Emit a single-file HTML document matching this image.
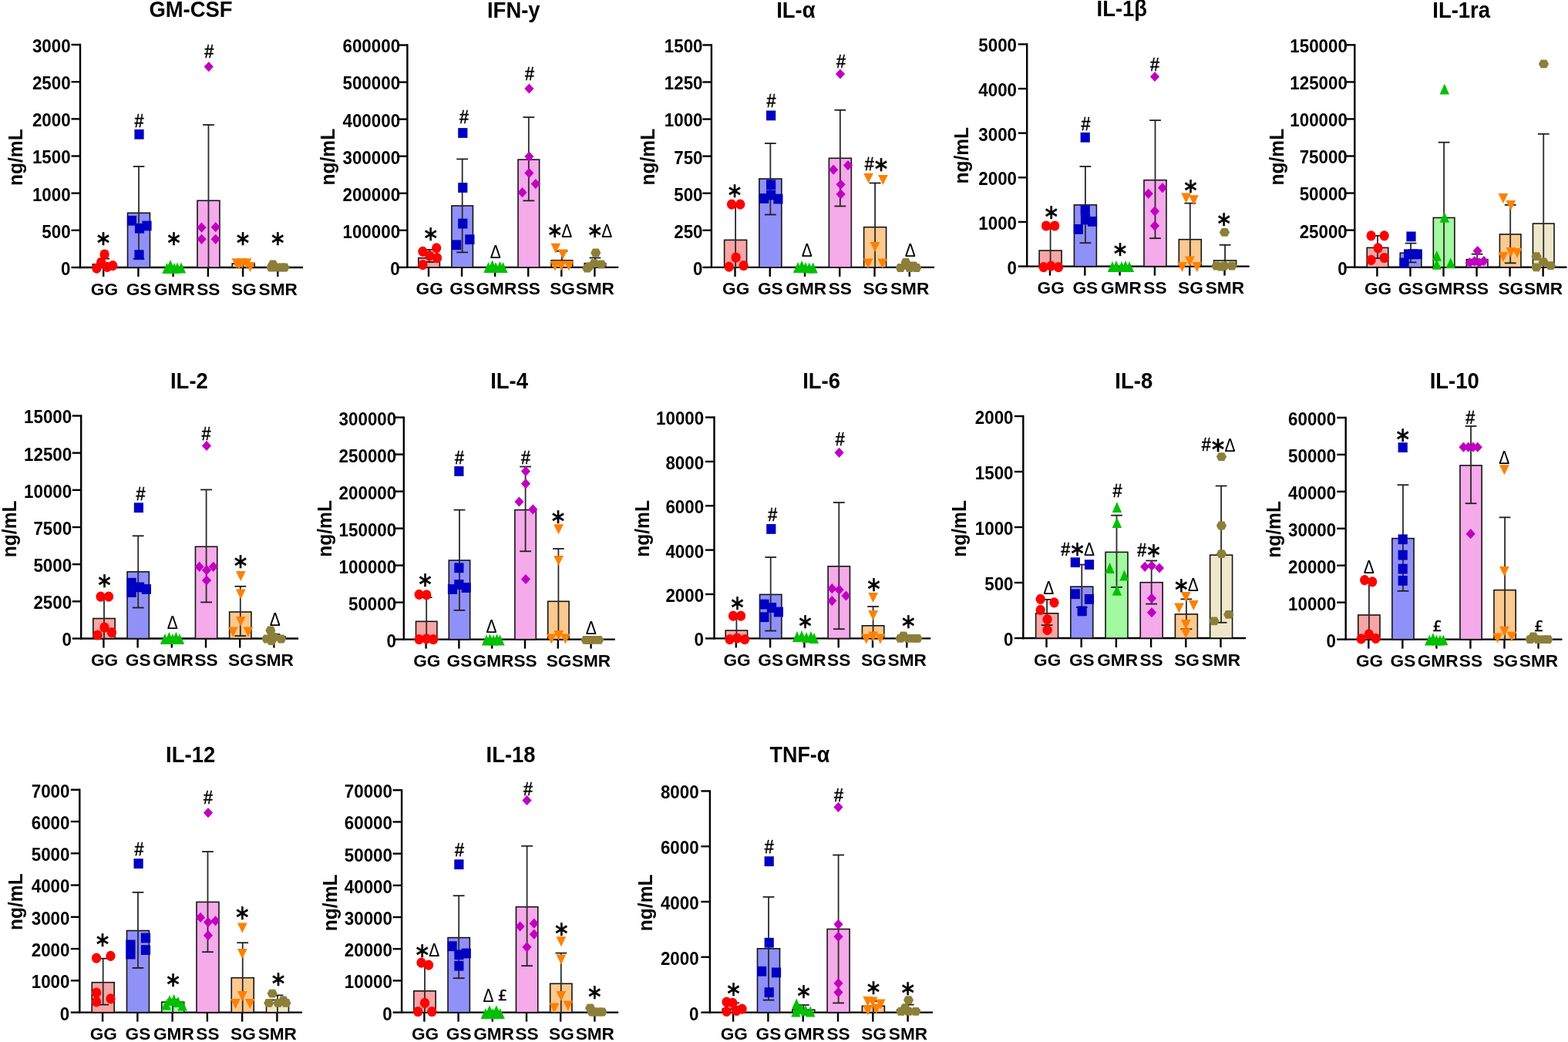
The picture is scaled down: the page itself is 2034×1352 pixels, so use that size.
<!DOCTYPE html>
<html><head><meta charset="utf-8"><title>Cytokines</title>
<style>html,body{margin:0;padding:0;background:#fff;} svg{display:block;} text{font-kerning:none;}</style></head>
<body><svg width="2034" height="1352" viewBox="0 0 2034 1352">
<rect width="2034" height="1352" fill="#fff"/>
<text transform="translate(193.42,22.4) scale(0.96,1)" font-family="'Liberation Sans', sans-serif" font-weight="bold" font-size="28.6" fill="#000">GM-CSF</text>
<text transform="translate(29.3,203.5) rotate(-90) translate(-37.48,0) scale(0.96,1)" font-family="'Liberation Sans', sans-serif" font-weight="bold" font-size="25.6">ng/mL</text>
<line x1="92.5" y1="347" x2="104" y2="347" stroke="#000" stroke-width="2.4"/>
<text transform="translate(79.05,356.9) scale(0.92,1)" font-family="'Liberation Sans', sans-serif" font-weight="bold" font-size="24.3" fill="#000">0</text>
<line x1="92.5" y1="298.83" x2="104" y2="298.83" stroke="#000" stroke-width="2.4"/>
<text transform="translate(54.31,308.73) scale(0.92,1)" font-family="'Liberation Sans', sans-serif" font-weight="bold" font-size="24.3" fill="#000">500</text>
<line x1="92.5" y1="250.67" x2="104" y2="250.67" stroke="#000" stroke-width="2.4"/>
<text transform="translate(41.95,260.57) scale(0.92,1)" font-family="'Liberation Sans', sans-serif" font-weight="bold" font-size="24.3" fill="#000">1000</text>
<line x1="92.5" y1="202.5" x2="104" y2="202.5" stroke="#000" stroke-width="2.4"/>
<text transform="translate(41.95,212.4) scale(0.92,1)" font-family="'Liberation Sans', sans-serif" font-weight="bold" font-size="24.3" fill="#000">1500</text>
<line x1="92.5" y1="154.33" x2="104" y2="154.33" stroke="#000" stroke-width="2.4"/>
<text transform="translate(41.95,164.23) scale(0.92,1)" font-family="'Liberation Sans', sans-serif" font-weight="bold" font-size="24.3" fill="#000">2000</text>
<line x1="92.5" y1="106.17" x2="104" y2="106.17" stroke="#000" stroke-width="2.4"/>
<text transform="translate(41.95,116.07) scale(0.92,1)" font-family="'Liberation Sans', sans-serif" font-weight="bold" font-size="24.3" fill="#000">2500</text>
<line x1="92.5" y1="58" x2="104" y2="58" stroke="#000" stroke-width="2.4"/>
<text transform="translate(41.95,67.9) scale(0.92,1)" font-family="'Liberation Sans', sans-serif" font-weight="bold" font-size="24.3" fill="#000">3000</text>
<line x1="104" y1="56.8" x2="104" y2="348.2" stroke="#000" stroke-width="2.4"/>
<line x1="102.8" y1="347" x2="393" y2="347" stroke="#000" stroke-width="2.4"/>
<line x1="134.2" y1="347" x2="134.2" y2="359" stroke="#000" stroke-width="2.4"/>
<text transform="translate(117.82,382.5) scale(1.02,1)" font-family="'Liberation Sans', sans-serif" font-weight="bold" font-size="22.2" fill="#000">GG</text>
<line x1="179.42" y1="347" x2="179.42" y2="359" stroke="#000" stroke-width="2.4"/>
<text transform="translate(163.64,382.5) scale(1.02,1)" font-family="'Liberation Sans', sans-serif" font-weight="bold" font-size="22.2" fill="#000">GS</text>
<line x1="224.64" y1="347" x2="224.64" y2="359" stroke="#000" stroke-width="2.4"/>
<text transform="translate(199.99,382.5) scale(1.02,1)" font-family="'Liberation Sans', sans-serif" font-weight="bold" font-size="22.2" fill="#000">GMR</text>
<line x1="269.86" y1="347" x2="269.86" y2="359" stroke="#000" stroke-width="2.4"/>
<text transform="translate(255.27,382.5) scale(1.02,1)" font-family="'Liberation Sans', sans-serif" font-weight="bold" font-size="22.2" fill="#000">SS</text>
<line x1="315.08" y1="347" x2="315.08" y2="359" stroke="#000" stroke-width="2.4"/>
<text transform="translate(300,382.5) scale(1.02,1)" font-family="'Liberation Sans', sans-serif" font-weight="bold" font-size="22.2" fill="#000">SG</text>
<line x1="360.3" y1="347" x2="360.3" y2="359" stroke="#000" stroke-width="2.4"/>
<text transform="translate(335.55,382.5) scale(1.02,1)" font-family="'Liberation Sans', sans-serif" font-weight="bold" font-size="22.2" fill="#000">SMR</text>
<rect x="120.33" y="342.8" width="28.94" height="4.2" fill="#F9A5A5" stroke="#141414" stroke-width="1.6"/>
<rect x="165.55" y="276.3" width="28.94" height="70.7" fill="#9090F9" stroke="#141414" stroke-width="1.6"/>
<rect x="255.99" y="260.3" width="28.94" height="86.7" fill="#F5AAEA" stroke="#141414" stroke-width="1.6"/>
<rect x="301.21" y="342" width="28.94" height="5" fill="#FCC98F" stroke="#141414" stroke-width="1.6"/>
<line x1="134.8" y1="335.7" x2="134.8" y2="347" stroke="#2a2a2a" stroke-width="1.8"/>
<line x1="127.4" y1="335.7" x2="142.2" y2="335.7" stroke="#1e1e1e" stroke-width="1.8"/>
<line x1="180.02" y1="216" x2="180.02" y2="335.8" stroke="#2a2a2a" stroke-width="1.8"/>
<line x1="172.62" y1="216" x2="187.42" y2="216" stroke="#1e1e1e" stroke-width="1.8"/>
<line x1="172.62" y1="335.8" x2="187.42" y2="335.8" stroke="#1e1e1e" stroke-width="1.8"/>
<line x1="270.46" y1="162" x2="270.46" y2="347" stroke="#2a2a2a" stroke-width="1.8"/>
<line x1="263.06" y1="162" x2="277.86" y2="162" stroke="#1e1e1e" stroke-width="1.8"/>
<line x1="315.68" y1="338" x2="315.68" y2="347" stroke="#2a2a2a" stroke-width="1.8"/>
<line x1="308.28" y1="338" x2="323.08" y2="338" stroke="#1e1e1e" stroke-width="1.8"/>
<ellipse cx="135.6" cy="330" rx="6.15" ry="6.6" fill="#FF0000"/>
<ellipse cx="131.2" cy="340.5" rx="6.15" ry="6.6" fill="#FF0000"/>
<ellipse cx="125.4" cy="348.2" rx="6.15" ry="6.6" fill="#FF0000"/>
<ellipse cx="139.1" cy="346.4" rx="6.15" ry="6.6" fill="#FF0000"/>
<ellipse cx="146.3" cy="344.6" rx="6.15" ry="6.6" fill="#FF0000"/>
<rect x="174.4" y="167.9" width="12.2" height="12.8" fill="#0000C0"/>
<rect x="164.9" y="279.9" width="12.2" height="12.8" fill="#0000C0"/>
<rect x="174.9" y="289.9" width="12.2" height="12.8" fill="#0000C0"/>
<rect x="184.4" y="286.6" width="12.2" height="12.8" fill="#0000C0"/>
<rect x="174.4" y="324.3" width="12.2" height="12.8" fill="#0000C0"/>
<polygon points="210.3,354.9 222.7,354.9 216.5,341.1" fill="#00C000"/>
<polygon points="214.8,350.9 227.2,350.9 221,337.1" fill="#00C000"/>
<polygon points="219.8,354.9 232.2,354.9 226,341.1" fill="#00C000"/>
<polygon points="223.8,354.4 236.2,354.4 230,340.6" fill="#00C000"/>
<polygon points="228.8,354.4 241.2,354.4 235,340.6" fill="#00C000"/>
<polygon points="264.7,86.6 270.8,80 276.9,86.6 270.8,93.2" fill="#C000C0"/>
<polygon points="255.4,295.2 261.5,288.6 267.6,295.2 261.5,301.8" fill="#C000C0"/>
<polygon points="273.6,294.7 279.7,288.1 285.8,294.7 279.7,301.3" fill="#C000C0"/>
<polygon points="255.4,310.3 261.5,303.7 267.6,310.3 261.5,316.9" fill="#C000C0"/>
<polygon points="273.6,310.3 279.7,303.7 285.8,310.3 279.7,316.9" fill="#C000C0"/>
<polygon points="300.6,335.2 313.4,335.2 307,348.2" fill="#FF8000"/>
<polygon points="307.6,335.2 320.4,335.2 314,348.2" fill="#FF8000"/>
<polygon points="313.6,335.2 326.4,335.2 320,348.2" fill="#FF8000"/>
<polygon points="318.1,340 330.9,340 324.5,353" fill="#FF8000"/>
<polygon points="303.6,336.5 316.4,336.5 310,349.5" fill="#FF8000"/>
<polygon points="347.4,343 350.3,337.6 357.7,337.6 360.6,343 357.7,348.4 350.3,348.4" fill="#8C7F3A"/>
<polygon points="345.4,347 348.3,341.6 355.7,341.6 358.6,347 355.7,352.4 348.3,352.4" fill="#8C7F3A"/>
<polygon points="353.4,347 356.3,341.6 363.7,341.6 366.6,347 363.7,352.4 356.3,352.4" fill="#8C7F3A"/>
<polygon points="359.4,347 362.3,341.6 369.7,341.6 372.6,347 369.7,352.4 362.3,352.4" fill="#8C7F3A"/>
<polygon points="362.4,347 365.3,341.6 372.7,341.6 375.6,347 372.7,352.4 365.3,352.4" fill="#8C7F3A"/>
<text transform="translate(123.41,318.3) scale(0.96,1)" font-family="'DejaVu Sans', sans-serif" font-weight="normal" font-size="26.16" fill="#000" stroke="#000" stroke-width="0.63">∗</text>
<text transform="translate(174.51,164.85) scale(0.88,1)" font-family="'Liberation Sans', sans-serif" font-weight="normal" font-size="24.41" fill="#000" stroke="#000" stroke-width="0.57">#</text>
<text transform="translate(214.91,318.3) scale(0.96,1)" font-family="'DejaVu Sans', sans-serif" font-weight="normal" font-size="26.16" fill="#000" stroke="#000" stroke-width="0.63">∗</text>
<text transform="translate(265.31,74.55) scale(0.88,1)" font-family="'Liberation Sans', sans-serif" font-weight="normal" font-size="24.41" fill="#000" stroke="#000" stroke-width="0.57">#</text>
<text transform="translate(304.51,318.3) scale(0.96,1)" font-family="'DejaVu Sans', sans-serif" font-weight="normal" font-size="26.16" fill="#000" stroke="#000" stroke-width="0.63">∗</text>
<text transform="translate(349.81,318.3) scale(0.96,1)" font-family="'DejaVu Sans', sans-serif" font-weight="normal" font-size="26.16" fill="#000" stroke="#000" stroke-width="0.63">∗</text>
<text transform="translate(632,22.6) scale(0.96,1)" font-family="'Liberation Sans', sans-serif" font-weight="bold" font-size="28.6" fill="#000">IFN-y</text>
<text transform="translate(433.8,203) rotate(-90) translate(-37.48,0) scale(0.96,1)" font-family="'Liberation Sans', sans-serif" font-weight="bold" font-size="25.6">ng/mL</text>
<line x1="516.9" y1="346.9" x2="528.4" y2="346.9" stroke="#000" stroke-width="2.4"/>
<text transform="translate(506.35,356.8) scale(0.92,1)" font-family="'Liberation Sans', sans-serif" font-weight="bold" font-size="24.3" fill="#000">0</text>
<line x1="516.9" y1="298.83" x2="528.4" y2="298.83" stroke="#000" stroke-width="2.4"/>
<text transform="translate(444.52,308.73) scale(0.92,1)" font-family="'Liberation Sans', sans-serif" font-weight="bold" font-size="24.3" fill="#000">100000</text>
<line x1="516.9" y1="250.77" x2="528.4" y2="250.77" stroke="#000" stroke-width="2.4"/>
<text transform="translate(444.52,260.67) scale(0.92,1)" font-family="'Liberation Sans', sans-serif" font-weight="bold" font-size="24.3" fill="#000">200000</text>
<line x1="516.9" y1="202.7" x2="528.4" y2="202.7" stroke="#000" stroke-width="2.4"/>
<text transform="translate(444.52,212.6) scale(0.92,1)" font-family="'Liberation Sans', sans-serif" font-weight="bold" font-size="24.3" fill="#000">300000</text>
<line x1="516.9" y1="154.63" x2="528.4" y2="154.63" stroke="#000" stroke-width="2.4"/>
<text transform="translate(444.52,164.53) scale(0.92,1)" font-family="'Liberation Sans', sans-serif" font-weight="bold" font-size="24.3" fill="#000">400000</text>
<line x1="516.9" y1="106.57" x2="528.4" y2="106.57" stroke="#000" stroke-width="2.4"/>
<text transform="translate(444.52,116.47) scale(0.92,1)" font-family="'Liberation Sans', sans-serif" font-weight="bold" font-size="24.3" fill="#000">500000</text>
<line x1="516.9" y1="58.5" x2="528.4" y2="58.5" stroke="#000" stroke-width="2.4"/>
<text transform="translate(444.52,68.4) scale(0.92,1)" font-family="'Liberation Sans', sans-serif" font-weight="bold" font-size="24.3" fill="#000">600000</text>
<line x1="528.4" y1="57.3" x2="528.4" y2="348.1" stroke="#000" stroke-width="2.4"/>
<line x1="527.2" y1="346.9" x2="802.2" y2="346.9" stroke="#000" stroke-width="2.4"/>
<line x1="556" y1="346.9" x2="556" y2="358.9" stroke="#000" stroke-width="2.4"/>
<text transform="translate(539.62,382.4) scale(1.02,1)" font-family="'Liberation Sans', sans-serif" font-weight="bold" font-size="22.2" fill="#000">GG</text>
<line x1="599.08" y1="346.9" x2="599.08" y2="358.9" stroke="#000" stroke-width="2.4"/>
<text transform="translate(583.3,382.4) scale(1.02,1)" font-family="'Liberation Sans', sans-serif" font-weight="bold" font-size="22.2" fill="#000">GS</text>
<line x1="642.16" y1="346.9" x2="642.16" y2="358.9" stroke="#000" stroke-width="2.4"/>
<text transform="translate(617.51,382.4) scale(1.02,1)" font-family="'Liberation Sans', sans-serif" font-weight="bold" font-size="22.2" fill="#000">GMR</text>
<line x1="685.24" y1="346.9" x2="685.24" y2="358.9" stroke="#000" stroke-width="2.4"/>
<text transform="translate(670.65,382.4) scale(1.02,1)" font-family="'Liberation Sans', sans-serif" font-weight="bold" font-size="22.2" fill="#000">SS</text>
<line x1="728.32" y1="346.9" x2="728.32" y2="358.9" stroke="#000" stroke-width="2.4"/>
<text transform="translate(713.24,382.4) scale(1.02,1)" font-family="'Liberation Sans', sans-serif" font-weight="bold" font-size="22.2" fill="#000">SG</text>
<line x1="771.4" y1="346.9" x2="771.4" y2="358.9" stroke="#000" stroke-width="2.4"/>
<text transform="translate(746.65,382.4) scale(1.02,1)" font-family="'Liberation Sans', sans-serif" font-weight="bold" font-size="22.2" fill="#000">SMR</text>
<rect x="542.81" y="334.7" width="27.57" height="12.2" fill="#F9A5A5" stroke="#141414" stroke-width="1.6"/>
<rect x="585.89" y="267" width="27.57" height="79.9" fill="#9090F9" stroke="#141414" stroke-width="1.6"/>
<rect x="672.05" y="207.1" width="27.57" height="139.8" fill="#F5AAEA" stroke="#141414" stroke-width="1.6"/>
<rect x="715.13" y="337.8" width="27.57" height="9.1" fill="#FCC98F" stroke="#141414" stroke-width="1.6"/>
<rect x="758.21" y="341.7" width="27.57" height="5.2" fill="#EEE7CA" stroke="#141414" stroke-width="1.6"/>
<line x1="556.6" y1="324" x2="556.6" y2="340" stroke="#2a2a2a" stroke-width="1.8"/>
<line x1="549.2" y1="324" x2="564" y2="324" stroke="#1e1e1e" stroke-width="1.8"/>
<line x1="549.2" y1="340" x2="564" y2="340" stroke="#1e1e1e" stroke-width="1.8"/>
<line x1="599.68" y1="206.4" x2="599.68" y2="327.4" stroke="#2a2a2a" stroke-width="1.8"/>
<line x1="592.28" y1="206.4" x2="607.08" y2="206.4" stroke="#1e1e1e" stroke-width="1.8"/>
<line x1="592.28" y1="327.4" x2="607.08" y2="327.4" stroke="#1e1e1e" stroke-width="1.8"/>
<line x1="685.84" y1="152.1" x2="685.84" y2="260.4" stroke="#2a2a2a" stroke-width="1.8"/>
<line x1="678.44" y1="152.1" x2="693.24" y2="152.1" stroke="#1e1e1e" stroke-width="1.8"/>
<line x1="678.44" y1="260.4" x2="693.24" y2="260.4" stroke="#1e1e1e" stroke-width="1.8"/>
<line x1="728.92" y1="325.8" x2="728.92" y2="346.9" stroke="#2a2a2a" stroke-width="1.8"/>
<line x1="721.52" y1="325.8" x2="736.32" y2="325.8" stroke="#1e1e1e" stroke-width="1.8"/>
<line x1="772" y1="334.5" x2="772" y2="346.9" stroke="#2a2a2a" stroke-width="1.8"/>
<line x1="764.6" y1="334.5" x2="779.4" y2="334.5" stroke="#1e1e1e" stroke-width="1.8"/>
<ellipse cx="548.4" cy="326.3" rx="6.15" ry="6.6" fill="#FF0000"/>
<ellipse cx="566.2" cy="321.8" rx="6.15" ry="6.6" fill="#FF0000"/>
<ellipse cx="557.3" cy="331.8" rx="6.15" ry="6.6" fill="#FF0000"/>
<ellipse cx="567" cy="334.7" rx="6.15" ry="6.6" fill="#FF0000"/>
<ellipse cx="548.4" cy="343.6" rx="6.15" ry="6.6" fill="#FF0000"/>
<rect x="594.2" y="166.1" width="12.2" height="12.8" fill="#0000C0"/>
<rect x="594.2" y="237.1" width="12.2" height="12.8" fill="#0000C0"/>
<rect x="594.2" y="283.7" width="12.2" height="12.8" fill="#0000C0"/>
<rect x="586" y="311.4" width="12.2" height="12.8" fill="#0000C0"/>
<rect x="603.3" y="304.3" width="12.2" height="12.8" fill="#0000C0"/>
<polygon points="627.3,353.9 639.7,353.9 633.5,340.1" fill="#00C000"/>
<polygon points="632.4,351.3 644.8,351.3 638.6,337.5" fill="#00C000"/>
<polygon points="636.8,353.9 649.2,353.9 643,340.1" fill="#00C000"/>
<polygon points="642.2,352.9 654.6,352.9 648.4,339.1" fill="#00C000"/>
<polygon points="646.3,353.9 658.7,353.9 652.5,340.1" fill="#00C000"/>
<polygon points="680.3,115 686.4,108.4 692.5,115 686.4,121.6" fill="#C000C0"/>
<polygon points="680.3,203.1 686.4,196.5 692.5,203.1 686.4,209.7" fill="#C000C0"/>
<polygon points="680.3,224.6 686.4,218 692.5,224.6 686.4,231.2" fill="#C000C0"/>
<polygon points="688.7,238.6 694.8,232 700.9,238.6 694.8,245.2" fill="#C000C0"/>
<polygon points="671.4,249.7 677.5,243.1 683.6,249.7 677.5,256.3" fill="#C000C0"/>
<polygon points="714.4,315.7 727.2,315.7 720.8,328.7" fill="#FF8000"/>
<polygon points="723.8,323.5 736.6,323.5 730.2,336.5" fill="#FF8000"/>
<polygon points="731.6,338.5 744.4,338.5 738,351.5" fill="#FF8000"/>
<polygon points="713.6,338.5 726.4,338.5 720,351.5" fill="#FF8000"/>
<polygon points="721.6,338.5 734.4,338.5 728,351.5" fill="#FF8000"/>
<polygon points="766.2,328 769.1,322.6 776.5,322.6 779.4,328 776.5,333.4 769.1,333.4" fill="#8C7F3A"/>
<polygon points="757.7,345.6 760.6,340.2 768,340.2 770.9,345.6 768,351 760.6,351" fill="#8C7F3A"/>
<polygon points="764.2,341.7 767.1,336.3 774.5,336.3 777.4,341.7 774.5,347.1 767.1,347.1" fill="#8C7F3A"/>
<polygon points="773.4,343 776.3,337.6 783.7,337.6 786.6,343 783.7,348.4 776.3,348.4" fill="#8C7F3A"/>
<polygon points="755.1,348.2 758,342.8 765.4,342.8 768.3,348.2 765.4,353.6 758,353.6" fill="#8C7F3A"/>
<text transform="translate(548.31,312.3) scale(0.96,1)" font-family="'DejaVu Sans', sans-serif" font-weight="normal" font-size="26.16" fill="#000" stroke="#000" stroke-width="0.63">∗</text>
<text transform="translate(596.11,159.95) scale(0.88,1)" font-family="'Liberation Sans', sans-serif" font-weight="normal" font-size="24.41" fill="#000" stroke="#000" stroke-width="0.57">#</text>
<text transform="translate(635.67,334.5) scale(0.91,1)" font-family="'Liberation Sans', sans-serif" font-weight="normal" font-size="23.11" fill="#000">Δ</text>
<text transform="translate(680.91,104.45) scale(0.88,1)" font-family="'Liberation Sans', sans-serif" font-weight="normal" font-size="24.41" fill="#000" stroke="#000" stroke-width="0.57">#</text>
<text transform="translate(709.26,308.3) scale(0.96,1)" font-family="'DejaVu Sans', sans-serif" font-weight="normal" font-size="26.16" fill="#000" stroke="#000" stroke-width="0.63">∗</text>
<text transform="translate(728.22,307.8) scale(0.91,1)" font-family="'Liberation Sans', sans-serif" font-weight="normal" font-size="23.11" fill="#000">Δ</text>
<text transform="translate(761.36,308.3) scale(0.96,1)" font-family="'DejaVu Sans', sans-serif" font-weight="normal" font-size="26.16" fill="#000" stroke="#000" stroke-width="0.63">∗</text>
<text transform="translate(780.32,307.8) scale(0.91,1)" font-family="'Liberation Sans', sans-serif" font-weight="normal" font-size="23.11" fill="#000">Δ</text>
<text transform="translate(1007.13,22.5) scale(0.96,1)" font-family="'Liberation Sans', sans-serif" font-weight="bold" font-size="28.6" fill="#000">IL-α</text>
<text transform="translate(848.7,203) rotate(-90) translate(-37.48,0) scale(0.96,1)" font-family="'Liberation Sans', sans-serif" font-weight="bold" font-size="25.6">ng/mL</text>
<line x1="911.4" y1="346.9" x2="922.9" y2="346.9" stroke="#000" stroke-width="2.4"/>
<text transform="translate(898.95,356.8) scale(0.92,1)" font-family="'Liberation Sans', sans-serif" font-weight="bold" font-size="24.3" fill="#000">0</text>
<line x1="911.4" y1="298.82" x2="922.9" y2="298.82" stroke="#000" stroke-width="2.4"/>
<text transform="translate(874.21,308.72) scale(0.92,1)" font-family="'Liberation Sans', sans-serif" font-weight="bold" font-size="24.3" fill="#000">250</text>
<line x1="911.4" y1="250.73" x2="922.9" y2="250.73" stroke="#000" stroke-width="2.4"/>
<text transform="translate(874.21,260.63) scale(0.92,1)" font-family="'Liberation Sans', sans-serif" font-weight="bold" font-size="24.3" fill="#000">500</text>
<line x1="911.4" y1="202.65" x2="922.9" y2="202.65" stroke="#000" stroke-width="2.4"/>
<text transform="translate(874.21,212.55) scale(0.92,1)" font-family="'Liberation Sans', sans-serif" font-weight="bold" font-size="24.3" fill="#000">750</text>
<line x1="911.4" y1="154.57" x2="922.9" y2="154.57" stroke="#000" stroke-width="2.4"/>
<text transform="translate(861.85,164.47) scale(0.92,1)" font-family="'Liberation Sans', sans-serif" font-weight="bold" font-size="24.3" fill="#000">1000</text>
<line x1="911.4" y1="106.48" x2="922.9" y2="106.48" stroke="#000" stroke-width="2.4"/>
<text transform="translate(861.85,116.38) scale(0.92,1)" font-family="'Liberation Sans', sans-serif" font-weight="bold" font-size="24.3" fill="#000">1250</text>
<line x1="911.4" y1="58.4" x2="922.9" y2="58.4" stroke="#000" stroke-width="2.4"/>
<text transform="translate(861.85,68.3) scale(0.92,1)" font-family="'Liberation Sans', sans-serif" font-weight="bold" font-size="24.3" fill="#000">1500</text>
<line x1="922.9" y1="57.2" x2="922.9" y2="348.1" stroke="#000" stroke-width="2.4"/>
<line x1="921.7" y1="346.9" x2="1212" y2="346.9" stroke="#000" stroke-width="2.4"/>
<line x1="953.5" y1="346.9" x2="953.5" y2="358.9" stroke="#000" stroke-width="2.4"/>
<text transform="translate(937.12,382.4) scale(1.02,1)" font-family="'Liberation Sans', sans-serif" font-weight="bold" font-size="22.2" fill="#000">GG</text>
<line x1="998.75" y1="346.9" x2="998.75" y2="358.9" stroke="#000" stroke-width="2.4"/>
<text transform="translate(982.97,382.4) scale(1.02,1)" font-family="'Liberation Sans', sans-serif" font-weight="bold" font-size="22.2" fill="#000">GS</text>
<line x1="1044" y1="346.9" x2="1044" y2="358.9" stroke="#000" stroke-width="2.4"/>
<text transform="translate(1019.35,382.4) scale(1.02,1)" font-family="'Liberation Sans', sans-serif" font-weight="bold" font-size="22.2" fill="#000">GMR</text>
<line x1="1089.25" y1="346.9" x2="1089.25" y2="358.9" stroke="#000" stroke-width="2.4"/>
<text transform="translate(1074.66,382.4) scale(1.02,1)" font-family="'Liberation Sans', sans-serif" font-weight="bold" font-size="22.2" fill="#000">SS</text>
<line x1="1134.5" y1="346.9" x2="1134.5" y2="358.9" stroke="#000" stroke-width="2.4"/>
<text transform="translate(1119.42,382.4) scale(1.02,1)" font-family="'Liberation Sans', sans-serif" font-weight="bold" font-size="22.2" fill="#000">SG</text>
<line x1="1179.75" y1="346.9" x2="1179.75" y2="358.9" stroke="#000" stroke-width="2.4"/>
<text transform="translate(1155,382.4) scale(1.02,1)" font-family="'Liberation Sans', sans-serif" font-weight="bold" font-size="22.2" fill="#000">SMR</text>
<rect x="939.62" y="311.4" width="28.96" height="35.5" fill="#F9A5A5" stroke="#141414" stroke-width="1.6"/>
<rect x="984.87" y="232" width="28.96" height="114.9" fill="#9090F9" stroke="#141414" stroke-width="1.6"/>
<rect x="1075.37" y="205.3" width="28.96" height="141.6" fill="#F5AAEA" stroke="#141414" stroke-width="1.6"/>
<rect x="1120.62" y="294.7" width="28.96" height="52.2" fill="#FCC98F" stroke="#141414" stroke-width="1.6"/>
<line x1="954.1" y1="265.2" x2="954.1" y2="346.9" stroke="#2a2a2a" stroke-width="1.8"/>
<line x1="946.7" y1="265.2" x2="961.5" y2="265.2" stroke="#1e1e1e" stroke-width="1.8"/>
<line x1="999.35" y1="186" x2="999.35" y2="278.5" stroke="#2a2a2a" stroke-width="1.8"/>
<line x1="991.95" y1="186" x2="1006.75" y2="186" stroke="#1e1e1e" stroke-width="1.8"/>
<line x1="991.95" y1="278.5" x2="1006.75" y2="278.5" stroke="#1e1e1e" stroke-width="1.8"/>
<line x1="1089.85" y1="142.8" x2="1089.85" y2="267.5" stroke="#2a2a2a" stroke-width="1.8"/>
<line x1="1082.45" y1="142.8" x2="1097.25" y2="142.8" stroke="#1e1e1e" stroke-width="1.8"/>
<line x1="1082.45" y1="267.5" x2="1097.25" y2="267.5" stroke="#1e1e1e" stroke-width="1.8"/>
<line x1="1135.1" y1="237.5" x2="1135.1" y2="346.9" stroke="#2a2a2a" stroke-width="1.8"/>
<line x1="1127.7" y1="237.5" x2="1142.5" y2="237.5" stroke="#1e1e1e" stroke-width="1.8"/>
<ellipse cx="949.1" cy="265.2" rx="6.15" ry="6.6" fill="#FF0000"/>
<ellipse cx="960.2" cy="265.2" rx="6.15" ry="6.6" fill="#FF0000"/>
<ellipse cx="954.6" cy="334" rx="6.15" ry="6.6" fill="#FF0000"/>
<ellipse cx="945.7" cy="346.2" rx="6.15" ry="6.6" fill="#FF0000"/>
<ellipse cx="964.6" cy="344.7" rx="6.15" ry="6.6" fill="#FF0000"/>
<rect x="994" y="143.5" width="12.2" height="12.8" fill="#0000C0"/>
<rect x="994" y="233.3" width="12.2" height="12.8" fill="#0000C0"/>
<rect x="985.1" y="251.1" width="12.2" height="12.8" fill="#0000C0"/>
<rect x="994" y="246.6" width="12.2" height="12.8" fill="#0000C0"/>
<rect x="1003.3" y="251.7" width="12.2" height="12.8" fill="#0000C0"/>
<polygon points="1028.8,353.9 1041.2,353.9 1035,340.1" fill="#00C000"/>
<polygon points="1033.9,351.7 1046.3,351.7 1040.1,337.9" fill="#00C000"/>
<polygon points="1038.8,353.9 1051.2,353.9 1045,340.1" fill="#00C000"/>
<polygon points="1043.6,354.4 1056,354.4 1049.8,340.6" fill="#00C000"/>
<polygon points="1048.4,354.4 1060.8,354.4 1054.6,340.6" fill="#00C000"/>
<polygon points="1083.9,96 1090,89.4 1096.1,96 1090,102.6" fill="#C000C0"/>
<polygon points="1075,220.2 1081.1,213.6 1087.2,220.2 1081.1,226.8" fill="#C000C0"/>
<polygon points="1093.9,214.6 1100,208 1106.1,214.6 1100,221.2" fill="#C000C0"/>
<polygon points="1084.5,239.3 1090.6,232.7 1096.7,239.3 1090.6,245.9" fill="#C000C0"/>
<polygon points="1084.5,251.9 1090.6,245.3 1096.7,251.9 1090.6,258.5" fill="#C000C0"/>
<polygon points="1120.2,224.7 1133,224.7 1126.6,237.7" fill="#FF8000"/>
<polygon points="1139,227 1151.8,227 1145.4,240" fill="#FF8000"/>
<polygon points="1128.6,314 1141.4,314 1135,327" fill="#FF8000"/>
<polygon points="1119.7,335.5 1132.5,335.5 1126.1,348.5" fill="#FF8000"/>
<polygon points="1138.4,335.5 1151.2,335.5 1144.8,348.5" fill="#FF8000"/>
<polygon points="1168.4,340.5 1171.3,335.1 1178.7,335.1 1181.6,340.5 1178.7,345.9 1171.3,345.9" fill="#8C7F3A"/>
<polygon points="1161.6,347.5 1164.5,342.1 1171.9,342.1 1174.8,347.5 1171.9,352.9 1164.5,352.9" fill="#8C7F3A"/>
<polygon points="1173.4,347.5 1176.3,342.1 1183.7,342.1 1186.6,347.5 1183.7,352.9 1176.3,352.9" fill="#8C7F3A"/>
<polygon points="1182.2,347.5 1185.1,342.1 1192.5,342.1 1195.4,347.5 1192.5,352.9 1185.1,352.9" fill="#8C7F3A"/>
<polygon points="1178.4,345 1181.3,339.6 1188.7,339.6 1191.6,345 1188.7,350.4 1181.3,350.4" fill="#8C7F3A"/>
<text transform="translate(942.61,256.2) scale(0.96,1)" font-family="'DejaVu Sans', sans-serif" font-weight="normal" font-size="26.16" fill="#000" stroke="#000" stroke-width="0.63">∗</text>
<text transform="translate(994.51,139.35) scale(0.88,1)" font-family="'Liberation Sans', sans-serif" font-weight="normal" font-size="24.41" fill="#000" stroke="#000" stroke-width="0.57">#</text>
<text transform="translate(1039.67,333.4) scale(0.91,1)" font-family="'Liberation Sans', sans-serif" font-weight="normal" font-size="23.11" fill="#000">Δ</text>
<text transform="translate(1085.01,88.25) scale(0.88,1)" font-family="'Liberation Sans', sans-serif" font-weight="normal" font-size="24.41" fill="#000" stroke="#000" stroke-width="0.57">#</text>
<text transform="translate(1121.76,220.75) scale(0.88,1)" font-family="'Liberation Sans', sans-serif" font-weight="normal" font-size="24.41" fill="#000" stroke="#000" stroke-width="0.57">#</text>
<text transform="translate(1132.51,221.5) scale(0.96,1)" font-family="'DejaVu Sans', sans-serif" font-weight="normal" font-size="26.16" fill="#000" stroke="#000" stroke-width="0.63">∗</text>
<text transform="translate(1173.87,333.4) scale(0.91,1)" font-family="'Liberation Sans', sans-serif" font-weight="normal" font-size="23.11" fill="#000">Δ</text>
<text transform="translate(1422.59,21) scale(0.96,1)" font-family="'Liberation Sans', sans-serif" font-weight="bold" font-size="28.6" fill="#000">IL-1β</text>
<text transform="translate(1256.2,201.1) rotate(-90) translate(-37.48,0) scale(0.96,1)" font-family="'Liberation Sans', sans-serif" font-weight="bold" font-size="25.6">ng/mL</text>
<line x1="1320.7" y1="345.6" x2="1332.2" y2="345.6" stroke="#000" stroke-width="2.4"/>
<text transform="translate(1306.45,355.5) scale(0.92,1)" font-family="'Liberation Sans', sans-serif" font-weight="bold" font-size="24.3" fill="#000">0</text>
<line x1="1320.7" y1="287.96" x2="1332.2" y2="287.96" stroke="#000" stroke-width="2.4"/>
<text transform="translate(1269.35,297.86) scale(0.92,1)" font-family="'Liberation Sans', sans-serif" font-weight="bold" font-size="24.3" fill="#000">1000</text>
<line x1="1320.7" y1="230.32" x2="1332.2" y2="230.32" stroke="#000" stroke-width="2.4"/>
<text transform="translate(1269.35,240.22) scale(0.92,1)" font-family="'Liberation Sans', sans-serif" font-weight="bold" font-size="24.3" fill="#000">2000</text>
<line x1="1320.7" y1="172.68" x2="1332.2" y2="172.68" stroke="#000" stroke-width="2.4"/>
<text transform="translate(1269.35,182.58) scale(0.92,1)" font-family="'Liberation Sans', sans-serif" font-weight="bold" font-size="24.3" fill="#000">3000</text>
<line x1="1320.7" y1="115.04" x2="1332.2" y2="115.04" stroke="#000" stroke-width="2.4"/>
<text transform="translate(1269.35,124.94) scale(0.92,1)" font-family="'Liberation Sans', sans-serif" font-weight="bold" font-size="24.3" fill="#000">4000</text>
<line x1="1320.7" y1="57.4" x2="1332.2" y2="57.4" stroke="#000" stroke-width="2.4"/>
<text transform="translate(1269.35,67.3) scale(0.92,1)" font-family="'Liberation Sans', sans-serif" font-weight="bold" font-size="24.3" fill="#000">5000</text>
<line x1="1332.2" y1="56.2" x2="1332.2" y2="346.8" stroke="#000" stroke-width="2.4"/>
<line x1="1331" y1="345.6" x2="1620.7" y2="345.6" stroke="#000" stroke-width="2.4"/>
<line x1="1362" y1="345.6" x2="1362" y2="357.6" stroke="#000" stroke-width="2.4"/>
<text transform="translate(1345.62,381.1) scale(1.02,1)" font-family="'Liberation Sans', sans-serif" font-weight="bold" font-size="22.2" fill="#000">GG</text>
<line x1="1407.3" y1="345.6" x2="1407.3" y2="357.6" stroke="#000" stroke-width="2.4"/>
<text transform="translate(1391.52,381.1) scale(1.02,1)" font-family="'Liberation Sans', sans-serif" font-weight="bold" font-size="22.2" fill="#000">GS</text>
<line x1="1452.6" y1="345.6" x2="1452.6" y2="357.6" stroke="#000" stroke-width="2.4"/>
<text transform="translate(1427.95,381.1) scale(1.02,1)" font-family="'Liberation Sans', sans-serif" font-weight="bold" font-size="22.2" fill="#000">GMR</text>
<line x1="1497.9" y1="345.6" x2="1497.9" y2="357.6" stroke="#000" stroke-width="2.4"/>
<text transform="translate(1483.31,381.1) scale(1.02,1)" font-family="'Liberation Sans', sans-serif" font-weight="bold" font-size="22.2" fill="#000">SS</text>
<line x1="1543.2" y1="345.6" x2="1543.2" y2="357.6" stroke="#000" stroke-width="2.4"/>
<text transform="translate(1528.12,381.1) scale(1.02,1)" font-family="'Liberation Sans', sans-serif" font-weight="bold" font-size="22.2" fill="#000">SG</text>
<line x1="1588.5" y1="345.6" x2="1588.5" y2="357.6" stroke="#000" stroke-width="2.4"/>
<text transform="translate(1563.75,381.1) scale(1.02,1)" font-family="'Liberation Sans', sans-serif" font-weight="bold" font-size="22.2" fill="#000">SMR</text>
<rect x="1348.1" y="325.1" width="28.99" height="20.5" fill="#F9A5A5" stroke="#141414" stroke-width="1.6"/>
<rect x="1393.4" y="265.9" width="28.99" height="79.7" fill="#9090F9" stroke="#141414" stroke-width="1.6"/>
<rect x="1484" y="233.7" width="28.99" height="111.9" fill="#F5AAEA" stroke="#141414" stroke-width="1.6"/>
<rect x="1529.3" y="310.7" width="28.99" height="34.9" fill="#FCC98F" stroke="#141414" stroke-width="1.6"/>
<rect x="1574.6" y="338" width="28.99" height="7.6" fill="#EEE7CA" stroke="#141414" stroke-width="1.6"/>
<line x1="1362.6" y1="293" x2="1362.6" y2="345.6" stroke="#2a2a2a" stroke-width="1.8"/>
<line x1="1355.2" y1="293" x2="1370" y2="293" stroke="#1e1e1e" stroke-width="1.8"/>
<line x1="1407.9" y1="216" x2="1407.9" y2="315.2" stroke="#2a2a2a" stroke-width="1.8"/>
<line x1="1400.5" y1="216" x2="1415.3" y2="216" stroke="#1e1e1e" stroke-width="1.8"/>
<line x1="1400.5" y1="315.2" x2="1415.3" y2="315.2" stroke="#1e1e1e" stroke-width="1.8"/>
<line x1="1498.5" y1="156.1" x2="1498.5" y2="309.2" stroke="#2a2a2a" stroke-width="1.8"/>
<line x1="1491.1" y1="156.1" x2="1505.9" y2="156.1" stroke="#1e1e1e" stroke-width="1.8"/>
<line x1="1491.1" y1="309.2" x2="1505.9" y2="309.2" stroke="#1e1e1e" stroke-width="1.8"/>
<line x1="1543.8" y1="263.7" x2="1543.8" y2="345.6" stroke="#2a2a2a" stroke-width="1.8"/>
<line x1="1536.4" y1="263.7" x2="1551.2" y2="263.7" stroke="#1e1e1e" stroke-width="1.8"/>
<line x1="1589.1" y1="317.8" x2="1589.1" y2="345.6" stroke="#2a2a2a" stroke-width="1.8"/>
<line x1="1581.7" y1="317.8" x2="1596.5" y2="317.8" stroke="#1e1e1e" stroke-width="1.8"/>
<ellipse cx="1357.1" cy="293" rx="6.15" ry="6.6" fill="#FF0000"/>
<ellipse cx="1368.2" cy="293" rx="6.15" ry="6.6" fill="#FF0000"/>
<ellipse cx="1353.7" cy="346.7" rx="6.15" ry="6.6" fill="#FF0000"/>
<ellipse cx="1363.3" cy="345.1" rx="6.15" ry="6.6" fill="#FF0000"/>
<ellipse cx="1373" cy="346.7" rx="6.15" ry="6.6" fill="#FF0000"/>
<rect x="1401.6" y="171.9" width="12.2" height="12.8" fill="#0000C0"/>
<rect x="1401.6" y="266.6" width="12.2" height="12.8" fill="#0000C0"/>
<rect x="1401.9" y="278.6" width="12.2" height="12.8" fill="#0000C0"/>
<rect x="1410.9" y="281" width="12.2" height="12.8" fill="#0000C0"/>
<rect x="1392.7" y="291" width="12.2" height="12.8" fill="#0000C0"/>
<polygon points="1436.8,352.9 1449.2,352.9 1443,339.1" fill="#00C000"/>
<polygon points="1441.8,351.9 1454.2,351.9 1448,338.1" fill="#00C000"/>
<polygon points="1448.8,352.9 1461.2,352.9 1455,339.1" fill="#00C000"/>
<polygon points="1453.8,351.9 1466.2,351.9 1460,338.1" fill="#00C000"/>
<polygon points="1458.8,352.9 1471.2,352.9 1465,339.1" fill="#00C000"/>
<polygon points="1491.9,99.5 1498,92.9 1504.1,99.5 1498,106.1" fill="#C000C0"/>
<polygon points="1483.6,251.3 1489.7,244.7 1495.8,251.3 1489.7,257.9" fill="#C000C0"/>
<polygon points="1501.9,243.7 1508,237.1 1514.1,243.7 1508,250.3" fill="#C000C0"/>
<polygon points="1491.9,274.1 1498,267.5 1504.1,274.1 1498,280.7" fill="#C000C0"/>
<polygon points="1491.9,293 1498,286.4 1504.1,293 1498,299.6" fill="#C000C0"/>
<polygon points="1532.2,250.5 1545,250.5 1538.6,263.5" fill="#FF8000"/>
<polygon points="1542.1,253.2 1554.9,253.2 1548.5,266.2" fill="#FF8000"/>
<polygon points="1537,332.5 1549.8,332.5 1543.4,345.5" fill="#FF8000"/>
<polygon points="1527.1,340 1539.9,340 1533.5,353" fill="#FF8000"/>
<polygon points="1546.4,340 1559.2,340 1552.8,353" fill="#FF8000"/>
<polygon points="1581.9,301.4 1584.8,296 1592.2,296 1595.1,301.4 1592.2,306.8 1584.8,306.8" fill="#8C7F3A"/>
<polygon points="1571.4,345 1574.3,339.6 1581.7,339.6 1584.6,345 1581.7,350.4 1574.3,350.4" fill="#8C7F3A"/>
<polygon points="1581.4,345 1584.3,339.6 1591.7,339.6 1594.6,345 1591.7,350.4 1584.3,350.4" fill="#8C7F3A"/>
<polygon points="1591.4,345 1594.3,339.6 1601.7,339.6 1604.6,345 1601.7,350.4 1594.3,350.4" fill="#8C7F3A"/>
<polygon points="1577.4,346 1580.3,340.6 1587.7,340.6 1590.6,346 1587.7,351.4 1580.3,351.4" fill="#8C7F3A"/>
<text transform="translate(1353.21,284.2) scale(0.96,1)" font-family="'DejaVu Sans', sans-serif" font-weight="normal" font-size="26.16" fill="#000" stroke="#000" stroke-width="0.63">∗</text>
<text transform="translate(1402.51,169.25) scale(0.88,1)" font-family="'Liberation Sans', sans-serif" font-weight="normal" font-size="24.41" fill="#000" stroke="#000" stroke-width="0.57">#</text>
<text transform="translate(1442.41,332.3) scale(0.96,1)" font-family="'DejaVu Sans', sans-serif" font-weight="normal" font-size="26.16" fill="#000" stroke="#000" stroke-width="0.63">∗</text>
<text transform="translate(1492.01,92.25) scale(0.88,1)" font-family="'Liberation Sans', sans-serif" font-weight="normal" font-size="24.41" fill="#000" stroke="#000" stroke-width="0.57">#</text>
<text transform="translate(1534.01,250.2) scale(0.96,1)" font-family="'DejaVu Sans', sans-serif" font-weight="normal" font-size="26.16" fill="#000" stroke="#000" stroke-width="0.63">∗</text>
<text transform="translate(1577.31,293) scale(0.96,1)" font-family="'DejaVu Sans', sans-serif" font-weight="normal" font-size="26.16" fill="#000" stroke="#000" stroke-width="0.63">∗</text>
<text transform="translate(1858.31,22.6) scale(0.96,1)" font-family="'Liberation Sans', sans-serif" font-weight="bold" font-size="28.6" fill="#000">IL-1ra</text>
<text transform="translate(1665.2,203) rotate(-90) translate(-37.48,0) scale(0.96,1)" font-family="'Liberation Sans', sans-serif" font-weight="bold" font-size="25.6">ng/mL</text>
<line x1="1745.8" y1="346.7" x2="1757.3" y2="346.7" stroke="#000" stroke-width="2.4"/>
<text transform="translate(1735.15,356.6) scale(0.92,1)" font-family="'Liberation Sans', sans-serif" font-weight="bold" font-size="24.3" fill="#000">0</text>
<line x1="1745.8" y1="298.63" x2="1757.3" y2="298.63" stroke="#000" stroke-width="2.4"/>
<text transform="translate(1685.68,308.53) scale(0.92,1)" font-family="'Liberation Sans', sans-serif" font-weight="bold" font-size="24.3" fill="#000">25000</text>
<line x1="1745.8" y1="250.57" x2="1757.3" y2="250.57" stroke="#000" stroke-width="2.4"/>
<text transform="translate(1685.68,260.47) scale(0.92,1)" font-family="'Liberation Sans', sans-serif" font-weight="bold" font-size="24.3" fill="#000">50000</text>
<line x1="1745.8" y1="202.5" x2="1757.3" y2="202.5" stroke="#000" stroke-width="2.4"/>
<text transform="translate(1685.68,212.4) scale(0.92,1)" font-family="'Liberation Sans', sans-serif" font-weight="bold" font-size="24.3" fill="#000">75000</text>
<line x1="1745.8" y1="154.43" x2="1757.3" y2="154.43" stroke="#000" stroke-width="2.4"/>
<text transform="translate(1673.32,164.33) scale(0.92,1)" font-family="'Liberation Sans', sans-serif" font-weight="bold" font-size="24.3" fill="#000">100000</text>
<line x1="1745.8" y1="106.37" x2="1757.3" y2="106.37" stroke="#000" stroke-width="2.4"/>
<text transform="translate(1673.32,116.27) scale(0.92,1)" font-family="'Liberation Sans', sans-serif" font-weight="bold" font-size="24.3" fill="#000">125000</text>
<line x1="1745.8" y1="58.3" x2="1757.3" y2="58.3" stroke="#000" stroke-width="2.4"/>
<text transform="translate(1673.32,68.2) scale(0.92,1)" font-family="'Liberation Sans', sans-serif" font-weight="bold" font-size="24.3" fill="#000">150000</text>
<line x1="1757.3" y1="57.1" x2="1757.3" y2="347.9" stroke="#000" stroke-width="2.4"/>
<line x1="1756.1" y1="346.7" x2="2032.5" y2="346.7" stroke="#000" stroke-width="2.4"/>
<line x1="1786.4" y1="346.7" x2="1786.4" y2="358.7" stroke="#000" stroke-width="2.4"/>
<text transform="translate(1770.02,382.2) scale(1.02,1)" font-family="'Liberation Sans', sans-serif" font-weight="bold" font-size="22.2" fill="#000">GG</text>
<line x1="1829.45" y1="346.7" x2="1829.45" y2="358.7" stroke="#000" stroke-width="2.4"/>
<text transform="translate(1813.67,382.2) scale(1.02,1)" font-family="'Liberation Sans', sans-serif" font-weight="bold" font-size="22.2" fill="#000">GS</text>
<line x1="1872.5" y1="346.7" x2="1872.5" y2="358.7" stroke="#000" stroke-width="2.4"/>
<text transform="translate(1847.85,382.2) scale(1.02,1)" font-family="'Liberation Sans', sans-serif" font-weight="bold" font-size="22.2" fill="#000">GMR</text>
<line x1="1915.55" y1="346.7" x2="1915.55" y2="358.7" stroke="#000" stroke-width="2.4"/>
<text transform="translate(1900.96,382.2) scale(1.02,1)" font-family="'Liberation Sans', sans-serif" font-weight="bold" font-size="22.2" fill="#000">SS</text>
<line x1="1958.6" y1="346.7" x2="1958.6" y2="358.7" stroke="#000" stroke-width="2.4"/>
<text transform="translate(1943.52,382.2) scale(1.02,1)" font-family="'Liberation Sans', sans-serif" font-weight="bold" font-size="22.2" fill="#000">SG</text>
<line x1="2001.65" y1="346.7" x2="2001.65" y2="358.7" stroke="#000" stroke-width="2.4"/>
<text transform="translate(1976.9,382.2) scale(1.02,1)" font-family="'Liberation Sans', sans-serif" font-weight="bold" font-size="22.2" fill="#000">SMR</text>
<rect x="1773.22" y="321.4" width="27.55" height="25.3" fill="#F9A5A5" stroke="#141414" stroke-width="1.6"/>
<rect x="1816.27" y="328.2" width="27.55" height="18.5" fill="#9090F9" stroke="#141414" stroke-width="1.6"/>
<rect x="1859.32" y="282.5" width="27.55" height="64.2" fill="#A2F9A0" stroke="#141414" stroke-width="1.6"/>
<rect x="1902.37" y="336.6" width="27.55" height="10.1" fill="#F5AAEA" stroke="#141414" stroke-width="1.6"/>
<rect x="1945.42" y="304" width="27.55" height="42.7" fill="#FCC98F" stroke="#141414" stroke-width="1.6"/>
<rect x="1988.47" y="290.1" width="27.55" height="56.6" fill="#EEE7CA" stroke="#141414" stroke-width="1.6"/>
<line x1="1787" y1="305.8" x2="1787" y2="335.1" stroke="#2a2a2a" stroke-width="1.8"/>
<line x1="1779.6" y1="305.8" x2="1794.4" y2="305.8" stroke="#1e1e1e" stroke-width="1.8"/>
<line x1="1779.6" y1="335.1" x2="1794.4" y2="335.1" stroke="#1e1e1e" stroke-width="1.8"/>
<line x1="1830.05" y1="315.6" x2="1830.05" y2="340.4" stroke="#2a2a2a" stroke-width="1.8"/>
<line x1="1822.65" y1="315.6" x2="1837.45" y2="315.6" stroke="#1e1e1e" stroke-width="1.8"/>
<line x1="1822.65" y1="340.4" x2="1837.45" y2="340.4" stroke="#1e1e1e" stroke-width="1.8"/>
<line x1="1873.1" y1="184.7" x2="1873.1" y2="346.7" stroke="#2a2a2a" stroke-width="1.8"/>
<line x1="1865.7" y1="184.7" x2="1880.5" y2="184.7" stroke="#1e1e1e" stroke-width="1.8"/>
<line x1="1916.15" y1="329.7" x2="1916.15" y2="342.8" stroke="#2a2a2a" stroke-width="1.8"/>
<line x1="1908.75" y1="329.7" x2="1923.55" y2="329.7" stroke="#1e1e1e" stroke-width="1.8"/>
<line x1="1908.75" y1="342.8" x2="1923.55" y2="342.8" stroke="#1e1e1e" stroke-width="1.8"/>
<line x1="1959.2" y1="265.9" x2="1959.2" y2="341.3" stroke="#2a2a2a" stroke-width="1.8"/>
<line x1="1951.8" y1="265.9" x2="1966.6" y2="265.9" stroke="#1e1e1e" stroke-width="1.8"/>
<line x1="1951.8" y1="341.3" x2="1966.6" y2="341.3" stroke="#1e1e1e" stroke-width="1.8"/>
<line x1="2002.25" y1="173.8" x2="2002.25" y2="346.7" stroke="#2a2a2a" stroke-width="1.8"/>
<line x1="1994.85" y1="173.8" x2="2009.65" y2="173.8" stroke="#1e1e1e" stroke-width="1.8"/>
<ellipse cx="1778.6" cy="305.8" rx="6.15" ry="6.6" fill="#FF0000"/>
<ellipse cx="1795.7" cy="305.8" rx="6.15" ry="6.6" fill="#FF0000"/>
<ellipse cx="1787.5" cy="321.8" rx="6.15" ry="6.6" fill="#FF0000"/>
<ellipse cx="1778.6" cy="337.4" rx="6.15" ry="6.6" fill="#FF0000"/>
<ellipse cx="1795.7" cy="334.5" rx="6.15" ry="6.6" fill="#FF0000"/>
<rect x="1824.4" y="300.5" width="12.2" height="12.8" fill="#0000C0"/>
<rect x="1821" y="323.4" width="12.2" height="12.8" fill="#0000C0"/>
<rect x="1832.6" y="323.4" width="12.2" height="12.8" fill="#0000C0"/>
<rect x="1815.4" y="334.5" width="12.2" height="12.8" fill="#0000C0"/>
<rect x="1826.9" y="323.4" width="12.2" height="12.8" fill="#0000C0"/>
<polygon points="1867.6,122.4 1880,122.4 1873.8,108.6" fill="#00C000"/>
<polygon points="1867.6,288.8 1880,288.8 1873.8,275" fill="#00C000"/>
<polygon points="1857.6,338.7 1870,338.7 1863.8,324.9" fill="#00C000"/>
<polygon points="1857.6,349.8 1870,349.8 1863.8,336" fill="#00C000"/>
<polygon points="1875.6,348.2 1888,348.2 1881.8,334.4" fill="#00C000"/>
<polygon points="1910.6,325.5 1916.7,318.9 1922.8,325.5 1916.7,332.1" fill="#C000C0"/>
<polygon points="1900.6,340.9 1906.7,334.3 1912.8,340.9 1906.7,347.5" fill="#C000C0"/>
<polygon points="1906.7,338.8 1912.8,332.2 1918.9,338.8 1912.8,345.4" fill="#C000C0"/>
<polygon points="1912.6,340.9 1918.7,334.3 1924.8,340.9 1918.7,347.5" fill="#C000C0"/>
<polygon points="1918.8,338.5 1924.9,331.9 1931,338.5 1924.9,345.1" fill="#C000C0"/>
<polygon points="1943.5,251 1956.3,251 1949.9,264" fill="#FF8000"/>
<polygon points="1953.5,259.9 1966.3,259.9 1959.9,272.9" fill="#FF8000"/>
<polygon points="1943.5,326.9 1956.3,326.9 1949.9,339.9" fill="#FF8000"/>
<polygon points="1953.5,320.9 1966.3,320.9 1959.9,333.9" fill="#FF8000"/>
<polygon points="1961.7,322 1974.5,322 1968.1,335" fill="#FF8000"/>
<polygon points="1995.9,82.9 1998.8,77.5 2006.2,77.5 2009.1,82.9 2006.2,88.3 1998.8,88.3" fill="#8C7F3A"/>
<polygon points="1986.5,332.7 1989.4,327.3 1996.8,327.3 1999.7,332.7 1996.8,338.1 1989.4,338.1" fill="#8C7F3A"/>
<polygon points="1986.4,346.8 1989.3,341.4 1996.7,341.4 1999.6,346.8 1996.7,352.2 1989.3,352.2" fill="#8C7F3A"/>
<polygon points="1995.5,339.9 1998.4,334.5 2005.8,334.5 2008.7,339.9 2005.8,345.3 1998.4,345.3" fill="#8C7F3A"/>
<polygon points="2004.9,344.7 2007.8,339.3 2015.2,339.3 2018.1,344.7 2015.2,350.1 2007.8,350.1" fill="#8C7F3A"/>
<text transform="translate(221,504) scale(0.96,1)" font-family="'Liberation Sans', sans-serif" font-weight="bold" font-size="28.6" fill="#000">IL-2</text>
<text transform="translate(21.2,685.7) rotate(-90) translate(-37.48,0) scale(0.96,1)" font-family="'Liberation Sans', sans-serif" font-weight="bold" font-size="25.6">ng/mL</text>
<line x1="93.7" y1="828.5" x2="105.2" y2="828.5" stroke="#000" stroke-width="2.4"/>
<text transform="translate(80.55,838.4) scale(0.92,1)" font-family="'Liberation Sans', sans-serif" font-weight="bold" font-size="24.3" fill="#000">0</text>
<line x1="93.7" y1="780.33" x2="105.2" y2="780.33" stroke="#000" stroke-width="2.4"/>
<text transform="translate(43.45,790.23) scale(0.92,1)" font-family="'Liberation Sans', sans-serif" font-weight="bold" font-size="24.3" fill="#000">2500</text>
<line x1="93.7" y1="732.17" x2="105.2" y2="732.17" stroke="#000" stroke-width="2.4"/>
<text transform="translate(43.45,742.07) scale(0.92,1)" font-family="'Liberation Sans', sans-serif" font-weight="bold" font-size="24.3" fill="#000">5000</text>
<line x1="93.7" y1="684" x2="105.2" y2="684" stroke="#000" stroke-width="2.4"/>
<text transform="translate(43.45,693.9) scale(0.92,1)" font-family="'Liberation Sans', sans-serif" font-weight="bold" font-size="24.3" fill="#000">7500</text>
<line x1="93.7" y1="635.83" x2="105.2" y2="635.83" stroke="#000" stroke-width="2.4"/>
<text transform="translate(31.08,645.73) scale(0.92,1)" font-family="'Liberation Sans', sans-serif" font-weight="bold" font-size="24.3" fill="#000">10000</text>
<line x1="93.7" y1="587.67" x2="105.2" y2="587.67" stroke="#000" stroke-width="2.4"/>
<text transform="translate(31.08,597.57) scale(0.92,1)" font-family="'Liberation Sans', sans-serif" font-weight="bold" font-size="24.3" fill="#000">12500</text>
<line x1="93.7" y1="539.5" x2="105.2" y2="539.5" stroke="#000" stroke-width="2.4"/>
<text transform="translate(31.08,549.4) scale(0.92,1)" font-family="'Liberation Sans', sans-serif" font-weight="bold" font-size="24.3" fill="#000">15000</text>
<line x1="105.2" y1="538.3" x2="105.2" y2="829.7" stroke="#000" stroke-width="2.4"/>
<line x1="104" y1="828.5" x2="387" y2="828.5" stroke="#000" stroke-width="2.4"/>
<line x1="134.4" y1="828.5" x2="134.4" y2="840.5" stroke="#000" stroke-width="2.4"/>
<text transform="translate(118.02,864) scale(1.02,1)" font-family="'Liberation Sans', sans-serif" font-weight="bold" font-size="22.2" fill="#000">GG</text>
<line x1="178.6" y1="828.5" x2="178.6" y2="840.5" stroke="#000" stroke-width="2.4"/>
<text transform="translate(162.82,864) scale(1.02,1)" font-family="'Liberation Sans', sans-serif" font-weight="bold" font-size="22.2" fill="#000">GS</text>
<line x1="222.8" y1="828.5" x2="222.8" y2="840.5" stroke="#000" stroke-width="2.4"/>
<text transform="translate(198.15,864) scale(1.02,1)" font-family="'Liberation Sans', sans-serif" font-weight="bold" font-size="22.2" fill="#000">GMR</text>
<line x1="267" y1="828.5" x2="267" y2="840.5" stroke="#000" stroke-width="2.4"/>
<text transform="translate(252.41,864) scale(1.02,1)" font-family="'Liberation Sans', sans-serif" font-weight="bold" font-size="22.2" fill="#000">SS</text>
<line x1="311.2" y1="828.5" x2="311.2" y2="840.5" stroke="#000" stroke-width="2.4"/>
<text transform="translate(296.12,864) scale(1.02,1)" font-family="'Liberation Sans', sans-serif" font-weight="bold" font-size="22.2" fill="#000">SG</text>
<line x1="355.4" y1="828.5" x2="355.4" y2="840.5" stroke="#000" stroke-width="2.4"/>
<text transform="translate(330.65,864) scale(1.02,1)" font-family="'Liberation Sans', sans-serif" font-weight="bold" font-size="22.2" fill="#000">SMR</text>
<rect x="120.86" y="802.5" width="28.29" height="26" fill="#F9A5A5" stroke="#141414" stroke-width="1.6"/>
<rect x="165.06" y="741.9" width="28.29" height="86.6" fill="#9090F9" stroke="#141414" stroke-width="1.6"/>
<rect x="253.46" y="709.3" width="28.29" height="119.2" fill="#F5AAEA" stroke="#141414" stroke-width="1.6"/>
<rect x="297.66" y="794" width="28.29" height="34.5" fill="#FCC98F" stroke="#141414" stroke-width="1.6"/>
<rect x="341.86" y="826" width="28.29" height="2.5" fill="#EEE7CA" stroke="#141414" stroke-width="1.6"/>
<line x1="135" y1="774.1" x2="135" y2="828.5" stroke="#2a2a2a" stroke-width="1.8"/>
<line x1="127.6" y1="774.1" x2="142.4" y2="774.1" stroke="#1e1e1e" stroke-width="1.8"/>
<line x1="179.2" y1="695.3" x2="179.2" y2="788.5" stroke="#2a2a2a" stroke-width="1.8"/>
<line x1="171.8" y1="695.3" x2="186.6" y2="695.3" stroke="#1e1e1e" stroke-width="1.8"/>
<line x1="171.8" y1="788.5" x2="186.6" y2="788.5" stroke="#1e1e1e" stroke-width="1.8"/>
<line x1="267.6" y1="635.4" x2="267.6" y2="781.4" stroke="#2a2a2a" stroke-width="1.8"/>
<line x1="260.2" y1="635.4" x2="275" y2="635.4" stroke="#1e1e1e" stroke-width="1.8"/>
<line x1="260.2" y1="781.4" x2="275" y2="781.4" stroke="#1e1e1e" stroke-width="1.8"/>
<line x1="311.8" y1="760.8" x2="311.8" y2="825.1" stroke="#2a2a2a" stroke-width="1.8"/>
<line x1="304.4" y1="760.8" x2="319.2" y2="760.8" stroke="#1e1e1e" stroke-width="1.8"/>
<line x1="304.4" y1="825.1" x2="319.2" y2="825.1" stroke="#1e1e1e" stroke-width="1.8"/>
<line x1="356" y1="822.9" x2="356" y2="828.5" stroke="#2a2a2a" stroke-width="1.8"/>
<line x1="348.6" y1="822.9" x2="363.4" y2="822.9" stroke="#1e1e1e" stroke-width="1.8"/>
<ellipse cx="130.6" cy="774.1" rx="6.15" ry="6.6" fill="#FF0000"/>
<ellipse cx="141" cy="774.1" rx="6.15" ry="6.6" fill="#FF0000"/>
<ellipse cx="135.5" cy="814" rx="6.15" ry="6.6" fill="#FF0000"/>
<ellipse cx="126.6" cy="824" rx="6.15" ry="6.6" fill="#FF0000"/>
<ellipse cx="145" cy="820.7" rx="6.15" ry="6.6" fill="#FF0000"/>
<rect x="173.8" y="652.3" width="12.2" height="12.8" fill="#0000C0"/>
<rect x="164.5" y="749.9" width="12.2" height="12.8" fill="#0000C0"/>
<rect x="164.5" y="762.1" width="12.2" height="12.8" fill="#0000C0"/>
<rect x="174.9" y="755.5" width="12.2" height="12.8" fill="#0000C0"/>
<rect x="183.8" y="758.1" width="12.2" height="12.8" fill="#0000C0"/>
<polygon points="207.8,835.9 220.2,835.9 214,822.1" fill="#00C000"/>
<polygon points="213.2,833.7 225.6,833.7 219.4,819.9" fill="#00C000"/>
<polygon points="217.8,835.9 230.2,835.9 224,822.1" fill="#00C000"/>
<polygon points="222.2,833.7 234.6,833.7 228.4,819.9" fill="#00C000"/>
<polygon points="226.8,835.9 239.2,835.9 233,822.1" fill="#00C000"/>
<polygon points="261.9,578.4 268,571.8 274.1,578.4 268,585" fill="#C000C0"/>
<polygon points="252.5,735.3 258.6,728.7 264.7,735.3 258.6,741.9" fill="#C000C0"/>
<polygon points="270.7,735.3 276.8,728.7 282.9,735.3 276.8,741.9" fill="#C000C0"/>
<polygon points="261.9,739.7 268,733.1 274.1,739.7 268,746.3" fill="#C000C0"/>
<polygon points="261.9,753 268,746.4 274.1,753 268,759.6" fill="#C000C0"/>
<polygon points="305.9,740.9 318.7,740.9 312.3,753.9" fill="#FF8000"/>
<polygon points="305.9,764.6 318.7,764.6 312.3,777.6" fill="#FF8000"/>
<polygon points="305.9,800.1 318.7,800.1 312.3,813.1" fill="#FF8000"/>
<polygon points="295.9,813.4 308.7,813.4 302.3,826.4" fill="#FF8000"/>
<polygon points="315.5,813.4 328.3,813.4 321.9,826.4" fill="#FF8000"/>
<polygon points="344.3,818 347.2,812.6 354.6,812.6 357.5,818 354.6,823.4 347.2,823.4" fill="#8C7F3A"/>
<polygon points="339.5,829 342.4,823.6 349.8,823.6 352.7,829 349.8,834.4 342.4,834.4" fill="#8C7F3A"/>
<polygon points="348.4,826.5 351.3,821.1 358.7,821.1 361.6,826.5 358.7,831.9 351.3,831.9" fill="#8C7F3A"/>
<polygon points="358.1,829 361,823.6 368.4,823.6 371.3,829 368.4,834.4 361,834.4" fill="#8C7F3A"/>
<polygon points="345.7,831.5 348.6,826.1 356,826.1 358.9,831.5 356,836.9 348.6,836.9" fill="#8C7F3A"/>
<text transform="translate(125.01,762.4) scale(0.96,1)" font-family="'DejaVu Sans', sans-serif" font-weight="normal" font-size="26.16" fill="#000" stroke="#000" stroke-width="0.63">∗</text>
<text transform="translate(176.41,648.65) scale(0.88,1)" font-family="'Liberation Sans', sans-serif" font-weight="normal" font-size="24.41" fill="#000" stroke="#000" stroke-width="0.57">#</text>
<text transform="translate(216.77,816.2) scale(0.91,1)" font-family="'Liberation Sans', sans-serif" font-weight="normal" font-size="23.11" fill="#000">Δ</text>
<text transform="translate(261.51,570.65) scale(0.88,1)" font-family="'Liberation Sans', sans-serif" font-weight="normal" font-size="24.41" fill="#000" stroke="#000" stroke-width="0.57">#</text>
<text transform="translate(301.41,736.9) scale(0.96,1)" font-family="'DejaVu Sans', sans-serif" font-weight="normal" font-size="26.16" fill="#000" stroke="#000" stroke-width="0.63">∗</text>
<text transform="translate(349.87,812.3) scale(0.91,1)" font-family="'Liberation Sans', sans-serif" font-weight="normal" font-size="23.11" fill="#000">Δ</text>
<text transform="translate(636.22,504) scale(0.96,1)" font-family="'Liberation Sans', sans-serif" font-weight="bold" font-size="28.6" fill="#000">IL-4</text>
<text transform="translate(429.5,685.3) rotate(-90) translate(-37.48,0) scale(0.96,1)" font-family="'Liberation Sans', sans-serif" font-weight="bold" font-size="25.6">ng/mL</text>
<line x1="512.3" y1="829.6" x2="523.8" y2="829.6" stroke="#000" stroke-width="2.4"/>
<text transform="translate(501.45,839.5) scale(0.92,1)" font-family="'Liberation Sans', sans-serif" font-weight="bold" font-size="24.3" fill="#000">0</text>
<line x1="512.3" y1="781.6" x2="523.8" y2="781.6" stroke="#000" stroke-width="2.4"/>
<text transform="translate(451.98,791.5) scale(0.92,1)" font-family="'Liberation Sans', sans-serif" font-weight="bold" font-size="24.3" fill="#000">50000</text>
<line x1="512.3" y1="733.6" x2="523.8" y2="733.6" stroke="#000" stroke-width="2.4"/>
<text transform="translate(439.62,743.5) scale(0.92,1)" font-family="'Liberation Sans', sans-serif" font-weight="bold" font-size="24.3" fill="#000">100000</text>
<line x1="512.3" y1="685.6" x2="523.8" y2="685.6" stroke="#000" stroke-width="2.4"/>
<text transform="translate(439.62,695.5) scale(0.92,1)" font-family="'Liberation Sans', sans-serif" font-weight="bold" font-size="24.3" fill="#000">150000</text>
<line x1="512.3" y1="637.6" x2="523.8" y2="637.6" stroke="#000" stroke-width="2.4"/>
<text transform="translate(439.62,647.5) scale(0.92,1)" font-family="'Liberation Sans', sans-serif" font-weight="bold" font-size="24.3" fill="#000">200000</text>
<line x1="512.3" y1="589.6" x2="523.8" y2="589.6" stroke="#000" stroke-width="2.4"/>
<text transform="translate(439.62,599.5) scale(0.92,1)" font-family="'Liberation Sans', sans-serif" font-weight="bold" font-size="24.3" fill="#000">250000</text>
<line x1="512.3" y1="541.6" x2="523.8" y2="541.6" stroke="#000" stroke-width="2.4"/>
<text transform="translate(439.62,551.5) scale(0.92,1)" font-family="'Liberation Sans', sans-serif" font-weight="bold" font-size="24.3" fill="#000">300000</text>
<line x1="523.8" y1="540.4" x2="523.8" y2="830.8" stroke="#000" stroke-width="2.4"/>
<line x1="522.6" y1="829.6" x2="797.8" y2="829.6" stroke="#000" stroke-width="2.4"/>
<line x1="552.6" y1="829.6" x2="552.6" y2="841.6" stroke="#000" stroke-width="2.4"/>
<text transform="translate(536.22,865.1) scale(1.02,1)" font-family="'Liberation Sans', sans-serif" font-weight="bold" font-size="22.2" fill="#000">GG</text>
<line x1="595.4" y1="829.6" x2="595.4" y2="841.6" stroke="#000" stroke-width="2.4"/>
<text transform="translate(579.62,865.1) scale(1.02,1)" font-family="'Liberation Sans', sans-serif" font-weight="bold" font-size="22.2" fill="#000">GS</text>
<line x1="638.2" y1="829.6" x2="638.2" y2="841.6" stroke="#000" stroke-width="2.4"/>
<text transform="translate(613.55,865.1) scale(1.02,1)" font-family="'Liberation Sans', sans-serif" font-weight="bold" font-size="22.2" fill="#000">GMR</text>
<line x1="681" y1="829.6" x2="681" y2="841.6" stroke="#000" stroke-width="2.4"/>
<text transform="translate(666.41,865.1) scale(1.02,1)" font-family="'Liberation Sans', sans-serif" font-weight="bold" font-size="22.2" fill="#000">SS</text>
<line x1="723.8" y1="829.6" x2="723.8" y2="841.6" stroke="#000" stroke-width="2.4"/>
<text transform="translate(708.72,865.1) scale(1.02,1)" font-family="'Liberation Sans', sans-serif" font-weight="bold" font-size="22.2" fill="#000">SG</text>
<line x1="766.6" y1="829.6" x2="766.6" y2="841.6" stroke="#000" stroke-width="2.4"/>
<text transform="translate(741.85,865.1) scale(1.02,1)" font-family="'Liberation Sans', sans-serif" font-weight="bold" font-size="22.2" fill="#000">SMR</text>
<rect x="539.5" y="806.3" width="27.39" height="23.3" fill="#F9A5A5" stroke="#141414" stroke-width="1.6"/>
<rect x="582.3" y="727" width="27.39" height="102.6" fill="#9090F9" stroke="#141414" stroke-width="1.6"/>
<rect x="667.9" y="661.6" width="27.39" height="168" fill="#F5AAEA" stroke="#141414" stroke-width="1.6"/>
<rect x="710.7" y="780.3" width="27.39" height="49.3" fill="#FCC98F" stroke="#141414" stroke-width="1.6"/>
<line x1="553.2" y1="775.2" x2="553.2" y2="829.6" stroke="#2a2a2a" stroke-width="1.8"/>
<line x1="545.8" y1="775.2" x2="560.6" y2="775.2" stroke="#1e1e1e" stroke-width="1.8"/>
<line x1="596" y1="661.6" x2="596" y2="791.8" stroke="#2a2a2a" stroke-width="1.8"/>
<line x1="588.6" y1="661.6" x2="603.4" y2="661.6" stroke="#1e1e1e" stroke-width="1.8"/>
<line x1="588.6" y1="791.8" x2="603.4" y2="791.8" stroke="#1e1e1e" stroke-width="1.8"/>
<line x1="681.6" y1="605.5" x2="681.6" y2="715.3" stroke="#2a2a2a" stroke-width="1.8"/>
<line x1="674.2" y1="605.5" x2="689" y2="605.5" stroke="#1e1e1e" stroke-width="1.8"/>
<line x1="674.2" y1="715.3" x2="689" y2="715.3" stroke="#1e1e1e" stroke-width="1.8"/>
<line x1="724.4" y1="712" x2="724.4" y2="829.6" stroke="#2a2a2a" stroke-width="1.8"/>
<line x1="717" y1="712" x2="731.8" y2="712" stroke="#1e1e1e" stroke-width="1.8"/>
<ellipse cx="543.7" cy="771.4" rx="6.15" ry="6.6" fill="#FF0000"/>
<ellipse cx="553.3" cy="771.9" rx="6.15" ry="6.6" fill="#FF0000"/>
<ellipse cx="543.7" cy="829.6" rx="6.15" ry="6.6" fill="#FF0000"/>
<ellipse cx="553.3" cy="828.9" rx="6.15" ry="6.6" fill="#FF0000"/>
<ellipse cx="562.2" cy="829.6" rx="6.15" ry="6.6" fill="#FF0000"/>
<rect x="589.3" y="605" width="12.2" height="12.8" fill="#0000C0"/>
<rect x="589.3" y="730.4" width="12.2" height="12.8" fill="#0000C0"/>
<rect x="589.3" y="752.1" width="12.2" height="12.8" fill="#0000C0"/>
<rect x="580.9" y="758.1" width="12.2" height="12.8" fill="#0000C0"/>
<rect x="598.6" y="756.1" width="12.2" height="12.8" fill="#0000C0"/>
<polygon points="624.8,837.4 637.2,837.4 631,823.6" fill="#00C000"/>
<polygon points="629.3,836.4 641.7,836.4 635.5,822.6" fill="#00C000"/>
<polygon points="633.8,837.4 646.2,837.4 640,823.6" fill="#00C000"/>
<polygon points="638.3,836.4 650.7,836.4 644.5,822.6" fill="#00C000"/>
<polygon points="642.3,837.4 654.7,837.4 648.5,823.6" fill="#00C000"/>
<polygon points="675.9,611.4 682,604.8 688.1,611.4 682,618" fill="#C000C0"/>
<polygon points="675.9,627.6 682,621 688.1,627.6 682,634.2" fill="#C000C0"/>
<polygon points="667.4,651 673.5,644.4 679.6,651 673.5,657.6" fill="#C000C0"/>
<polygon points="685.2,660.9 691.3,654.3 697.4,660.9 691.3,667.5" fill="#C000C0"/>
<polygon points="675.9,751.5 682,744.9 688.1,751.5 682,758.1" fill="#C000C0"/>
<polygon points="718.2,680.3 731,680.3 724.6,693.3" fill="#FF8000"/>
<polygon points="718.2,720.9 731,720.9 724.6,733.9" fill="#FF8000"/>
<polygon points="718.2,817.9 731,817.9 724.6,830.9" fill="#FF8000"/>
<polygon points="708.8,822.5 721.6,822.5 715.2,835.5" fill="#FF8000"/>
<polygon points="727,822.5 739.8,822.5 733.4,835.5" fill="#FF8000"/>
<polygon points="753.4,830.4 756.3,825 763.7,825 766.6,830.4 763.7,835.8 756.3,835.8" fill="#8C7F3A"/>
<polygon points="758.4,830.4 761.3,825 768.7,825 771.6,830.4 768.7,835.8 761.3,835.8" fill="#8C7F3A"/>
<polygon points="763.4,830.4 766.3,825 773.7,825 776.6,830.4 773.7,835.8 766.3,835.8" fill="#8C7F3A"/>
<polygon points="770.1,830.4 773,825 780.4,825 783.3,830.4 780.4,835.8 773,835.8" fill="#8C7F3A"/>
<polygon points="755.4,830.4 758.3,825 765.7,825 768.6,830.4 765.7,835.8 758.3,835.8" fill="#8C7F3A"/>
<text transform="translate(541.01,761.3) scale(0.96,1)" font-family="'DejaVu Sans', sans-serif" font-weight="normal" font-size="26.16" fill="#000" stroke="#000" stroke-width="0.63">∗</text>
<text transform="translate(589.91,602.05) scale(0.88,1)" font-family="'Liberation Sans', sans-serif" font-weight="normal" font-size="24.41" fill="#000" stroke="#000" stroke-width="0.57">#</text>
<text transform="translate(630.57,821) scale(0.91,1)" font-family="'Liberation Sans', sans-serif" font-weight="normal" font-size="23.11" fill="#000">Δ</text>
<text transform="translate(676.01,601.55) scale(0.88,1)" font-family="'Liberation Sans', sans-serif" font-weight="normal" font-size="24.41" fill="#000" stroke="#000" stroke-width="0.57">#</text>
<text transform="translate(713.61,679.2) scale(0.96,1)" font-family="'DejaVu Sans', sans-serif" font-weight="normal" font-size="26.16" fill="#000" stroke="#000" stroke-width="0.63">∗</text>
<text transform="translate(759.67,823.4) scale(0.91,1)" font-family="'Liberation Sans', sans-serif" font-weight="normal" font-size="23.11" fill="#000">Δ</text>
<text transform="translate(1041.14,504) scale(0.96,1)" font-family="'Liberation Sans', sans-serif" font-weight="bold" font-size="28.6" fill="#000">IL-6</text>
<text transform="translate(842,685.3) rotate(-90) translate(-37.48,0) scale(0.96,1)" font-family="'Liberation Sans', sans-serif" font-weight="bold" font-size="25.6">ng/mL</text>
<line x1="915" y1="828.4" x2="926.5" y2="828.4" stroke="#000" stroke-width="2.4"/>
<text transform="translate(900.55,838.3) scale(0.92,1)" font-family="'Liberation Sans', sans-serif" font-weight="bold" font-size="24.3" fill="#000">0</text>
<line x1="915" y1="771.02" x2="926.5" y2="771.02" stroke="#000" stroke-width="2.4"/>
<text transform="translate(863.45,780.92) scale(0.92,1)" font-family="'Liberation Sans', sans-serif" font-weight="bold" font-size="24.3" fill="#000">2000</text>
<line x1="915" y1="713.64" x2="926.5" y2="713.64" stroke="#000" stroke-width="2.4"/>
<text transform="translate(863.45,723.54) scale(0.92,1)" font-family="'Liberation Sans', sans-serif" font-weight="bold" font-size="24.3" fill="#000">4000</text>
<line x1="915" y1="656.26" x2="926.5" y2="656.26" stroke="#000" stroke-width="2.4"/>
<text transform="translate(863.45,666.16) scale(0.92,1)" font-family="'Liberation Sans', sans-serif" font-weight="bold" font-size="24.3" fill="#000">6000</text>
<line x1="915" y1="598.88" x2="926.5" y2="598.88" stroke="#000" stroke-width="2.4"/>
<text transform="translate(863.45,608.78) scale(0.92,1)" font-family="'Liberation Sans', sans-serif" font-weight="bold" font-size="24.3" fill="#000">8000</text>
<line x1="915" y1="541.5" x2="926.5" y2="541.5" stroke="#000" stroke-width="2.4"/>
<text transform="translate(851.08,551.4) scale(0.92,1)" font-family="'Liberation Sans', sans-serif" font-weight="bold" font-size="24.3" fill="#000">10000</text>
<line x1="926.5" y1="540.3" x2="926.5" y2="829.6" stroke="#000" stroke-width="2.4"/>
<line x1="925.3" y1="828.4" x2="1207.3" y2="828.4" stroke="#000" stroke-width="2.4"/>
<line x1="954.8" y1="828.4" x2="954.8" y2="840.4" stroke="#000" stroke-width="2.4"/>
<text transform="translate(938.42,863.9) scale(1.02,1)" font-family="'Liberation Sans', sans-serif" font-weight="bold" font-size="22.2" fill="#000">GG</text>
<line x1="999.1" y1="828.4" x2="999.1" y2="840.4" stroke="#000" stroke-width="2.4"/>
<text transform="translate(983.32,863.9) scale(1.02,1)" font-family="'Liberation Sans', sans-serif" font-weight="bold" font-size="22.2" fill="#000">GS</text>
<line x1="1043.4" y1="828.4" x2="1043.4" y2="840.4" stroke="#000" stroke-width="2.4"/>
<text transform="translate(1018.75,863.9) scale(1.02,1)" font-family="'Liberation Sans', sans-serif" font-weight="bold" font-size="22.2" fill="#000">GMR</text>
<line x1="1087.7" y1="828.4" x2="1087.7" y2="840.4" stroke="#000" stroke-width="2.4"/>
<text transform="translate(1073.11,863.9) scale(1.02,1)" font-family="'Liberation Sans', sans-serif" font-weight="bold" font-size="22.2" fill="#000">SS</text>
<line x1="1132" y1="828.4" x2="1132" y2="840.4" stroke="#000" stroke-width="2.4"/>
<text transform="translate(1116.92,863.9) scale(1.02,1)" font-family="'Liberation Sans', sans-serif" font-weight="bold" font-size="22.2" fill="#000">SG</text>
<line x1="1176.3" y1="828.4" x2="1176.3" y2="840.4" stroke="#000" stroke-width="2.4"/>
<text transform="translate(1151.55,863.9) scale(1.02,1)" font-family="'Liberation Sans', sans-serif" font-weight="bold" font-size="22.2" fill="#000">SMR</text>
<rect x="941.22" y="818" width="28.35" height="10.4" fill="#F9A5A5" stroke="#141414" stroke-width="1.6"/>
<rect x="985.52" y="771.4" width="28.35" height="57" fill="#9090F9" stroke="#141414" stroke-width="1.6"/>
<rect x="1074.12" y="734.8" width="28.35" height="93.6" fill="#F5AAEA" stroke="#141414" stroke-width="1.6"/>
<rect x="1118.42" y="811.8" width="28.35" height="16.6" fill="#FCC98F" stroke="#141414" stroke-width="1.6"/>
<line x1="955.4" y1="798.5" x2="955.4" y2="828.4" stroke="#2a2a2a" stroke-width="1.8"/>
<line x1="948" y1="798.5" x2="962.8" y2="798.5" stroke="#1e1e1e" stroke-width="1.8"/>
<line x1="999.7" y1="723" x2="999.7" y2="818.5" stroke="#2a2a2a" stroke-width="1.8"/>
<line x1="992.3" y1="723" x2="1007.1" y2="723" stroke="#1e1e1e" stroke-width="1.8"/>
<line x1="992.3" y1="818.5" x2="1007.1" y2="818.5" stroke="#1e1e1e" stroke-width="1.8"/>
<line x1="1088.3" y1="652" x2="1088.3" y2="816.2" stroke="#2a2a2a" stroke-width="1.8"/>
<line x1="1080.9" y1="652" x2="1095.7" y2="652" stroke="#1e1e1e" stroke-width="1.8"/>
<line x1="1080.9" y1="816.2" x2="1095.7" y2="816.2" stroke="#1e1e1e" stroke-width="1.8"/>
<line x1="1132.6" y1="787" x2="1132.6" y2="828.4" stroke="#2a2a2a" stroke-width="1.8"/>
<line x1="1125.2" y1="787" x2="1140" y2="787" stroke="#1e1e1e" stroke-width="1.8"/>
<ellipse cx="951.1" cy="799.2" rx="6.15" ry="6.6" fill="#FF0000"/>
<ellipse cx="961" cy="799.2" rx="6.15" ry="6.6" fill="#FF0000"/>
<ellipse cx="946.6" cy="829.6" rx="6.15" ry="6.6" fill="#FF0000"/>
<ellipse cx="956.2" cy="828" rx="6.15" ry="6.6" fill="#FF0000"/>
<ellipse cx="966.1" cy="829.6" rx="6.15" ry="6.6" fill="#FF0000"/>
<rect x="994.2" y="680" width="12.2" height="12.8" fill="#0000C0"/>
<rect x="985.3" y="777.7" width="12.2" height="12.8" fill="#0000C0"/>
<rect x="994.9" y="782.1" width="12.2" height="12.8" fill="#0000C0"/>
<rect x="1003.8" y="787.6" width="12.2" height="12.8" fill="#0000C0"/>
<rect x="985.3" y="794.3" width="12.2" height="12.8" fill="#0000C0"/>
<polygon points="1027.8,832.9 1040.2,832.9 1034,819.1" fill="#00C000"/>
<polygon points="1033.8,831.9 1046.2,831.9 1040,818.1" fill="#00C000"/>
<polygon points="1039.8,833.9 1052.2,833.9 1046,820.1" fill="#00C000"/>
<polygon points="1045.8,832.9 1058.2,832.9 1052,819.1" fill="#00C000"/>
<polygon points="1049.8,834.9 1062.2,834.9 1056,821.1" fill="#00C000"/>
<polygon points="1082.5,587.3 1088.6,580.7 1094.7,587.3 1088.6,593.9" fill="#C000C0"/>
<polygon points="1073.2,763.7 1079.3,757.1 1085.4,763.7 1079.3,770.3" fill="#C000C0"/>
<polygon points="1082.5,765.2 1088.6,758.6 1094.7,765.2 1088.6,771.8" fill="#C000C0"/>
<polygon points="1091.4,773 1097.5,766.4 1103.6,773 1097.5,779.6" fill="#C000C0"/>
<polygon points="1073.2,779.6 1079.3,773 1085.4,779.6 1079.3,786.2" fill="#C000C0"/>
<polygon points="1126.2,769 1139,769 1132.6,782" fill="#FF8000"/>
<polygon points="1126.2,791.9 1139,791.9 1132.6,804.9" fill="#FF8000"/>
<polygon points="1126.2,819.4 1139,819.4 1132.6,832.4" fill="#FF8000"/>
<polygon points="1117.3,822.5 1130.1,822.5 1123.7,835.5" fill="#FF8000"/>
<polygon points="1135.5,822.5 1148.3,822.5 1141.9,835.5" fill="#FF8000"/>
<polygon points="1165.4,825 1168.3,819.6 1175.7,819.6 1178.6,825 1175.7,830.4 1168.3,830.4" fill="#8C7F3A"/>
<polygon points="1161.4,828.4 1164.3,823 1171.7,823 1174.6,828.4 1171.7,833.8 1164.3,833.8" fill="#8C7F3A"/>
<polygon points="1171.4,828.4 1174.3,823 1181.7,823 1184.6,828.4 1181.7,833.8 1174.3,833.8" fill="#8C7F3A"/>
<polygon points="1179.4,828.4 1182.3,823 1189.7,823 1192.6,828.4 1189.7,833.8 1182.3,833.8" fill="#8C7F3A"/>
<polygon points="1183.4,828.4 1186.3,823 1193.7,823 1196.6,828.4 1193.7,833.8 1186.3,833.8" fill="#8C7F3A"/>
<text transform="translate(946.11,791.3) scale(0.96,1)" font-family="'DejaVu Sans', sans-serif" font-weight="normal" font-size="26.16" fill="#000" stroke="#000" stroke-width="0.63">∗</text>
<text transform="translate(996.31,676.05) scale(0.88,1)" font-family="'Liberation Sans', sans-serif" font-weight="normal" font-size="24.41" fill="#000" stroke="#000" stroke-width="0.57">#</text>
<text transform="translate(1034.01,815.3) scale(0.96,1)" font-family="'DejaVu Sans', sans-serif" font-weight="normal" font-size="26.16" fill="#000" stroke="#000" stroke-width="0.63">∗</text>
<text transform="translate(1083.71,578.25) scale(0.88,1)" font-family="'Liberation Sans', sans-serif" font-weight="normal" font-size="24.41" fill="#000" stroke="#000" stroke-width="0.57">#</text>
<text transform="translate(1122.91,766.8) scale(0.96,1)" font-family="'DejaVu Sans', sans-serif" font-weight="normal" font-size="26.16" fill="#000" stroke="#000" stroke-width="0.63">∗</text>
<text transform="translate(1167.81,815.3) scale(0.96,1)" font-family="'DejaVu Sans', sans-serif" font-weight="normal" font-size="26.16" fill="#000" stroke="#000" stroke-width="0.63">∗</text>
<text transform="translate(1446.37,504) scale(0.96,1)" font-family="'Liberation Sans', sans-serif" font-weight="bold" font-size="28.6" fill="#000">IL-8</text>
<text transform="translate(1252.8,685.3) rotate(-90) translate(-37.48,0) scale(0.96,1)" font-family="'Liberation Sans', sans-serif" font-weight="bold" font-size="25.6">ng/mL</text>
<line x1="1315.8" y1="828" x2="1327.3" y2="828" stroke="#000" stroke-width="2.4"/>
<text transform="translate(1301.95,837.9) scale(0.92,1)" font-family="'Liberation Sans', sans-serif" font-weight="bold" font-size="24.3" fill="#000">0</text>
<line x1="1315.8" y1="756" x2="1327.3" y2="756" stroke="#000" stroke-width="2.4"/>
<text transform="translate(1277.21,765.9) scale(0.92,1)" font-family="'Liberation Sans', sans-serif" font-weight="bold" font-size="24.3" fill="#000">500</text>
<line x1="1315.8" y1="684" x2="1327.3" y2="684" stroke="#000" stroke-width="2.4"/>
<text transform="translate(1264.85,693.9) scale(0.92,1)" font-family="'Liberation Sans', sans-serif" font-weight="bold" font-size="24.3" fill="#000">1000</text>
<line x1="1315.8" y1="612" x2="1327.3" y2="612" stroke="#000" stroke-width="2.4"/>
<text transform="translate(1264.85,621.9) scale(0.92,1)" font-family="'Liberation Sans', sans-serif" font-weight="bold" font-size="24.3" fill="#000">1500</text>
<line x1="1315.8" y1="540" x2="1327.3" y2="540" stroke="#000" stroke-width="2.4"/>
<text transform="translate(1264.85,549.9) scale(0.92,1)" font-family="'Liberation Sans', sans-serif" font-weight="bold" font-size="24.3" fill="#000">2000</text>
<line x1="1327.3" y1="538.8" x2="1327.3" y2="829.2" stroke="#000" stroke-width="2.4"/>
<line x1="1326.1" y1="828" x2="1616" y2="828" stroke="#000" stroke-width="2.4"/>
<line x1="1357.5" y1="828" x2="1357.5" y2="840" stroke="#000" stroke-width="2.4"/>
<text transform="translate(1341.12,863.5) scale(1.02,1)" font-family="'Liberation Sans', sans-serif" font-weight="bold" font-size="22.2" fill="#000">GG</text>
<line x1="1402.7" y1="828" x2="1402.7" y2="840" stroke="#000" stroke-width="2.4"/>
<text transform="translate(1386.92,863.5) scale(1.02,1)" font-family="'Liberation Sans', sans-serif" font-weight="bold" font-size="22.2" fill="#000">GS</text>
<line x1="1447.9" y1="828" x2="1447.9" y2="840" stroke="#000" stroke-width="2.4"/>
<text transform="translate(1423.25,863.5) scale(1.02,1)" font-family="'Liberation Sans', sans-serif" font-weight="bold" font-size="22.2" fill="#000">GMR</text>
<line x1="1493.1" y1="828" x2="1493.1" y2="840" stroke="#000" stroke-width="2.4"/>
<text transform="translate(1478.51,863.5) scale(1.02,1)" font-family="'Liberation Sans', sans-serif" font-weight="bold" font-size="22.2" fill="#000">SS</text>
<line x1="1538.3" y1="828" x2="1538.3" y2="840" stroke="#000" stroke-width="2.4"/>
<text transform="translate(1523.22,863.5) scale(1.02,1)" font-family="'Liberation Sans', sans-serif" font-weight="bold" font-size="22.2" fill="#000">SG</text>
<line x1="1583.5" y1="828" x2="1583.5" y2="840" stroke="#000" stroke-width="2.4"/>
<text transform="translate(1558.75,863.5) scale(1.02,1)" font-family="'Liberation Sans', sans-serif" font-weight="bold" font-size="22.2" fill="#000">SMR</text>
<rect x="1343.64" y="795.8" width="28.93" height="32.2" fill="#F9A5A5" stroke="#141414" stroke-width="1.6"/>
<rect x="1388.84" y="761.2" width="28.93" height="66.8" fill="#9090F9" stroke="#141414" stroke-width="1.6"/>
<rect x="1434.04" y="716.4" width="28.93" height="111.6" fill="#A2F9A0" stroke="#141414" stroke-width="1.6"/>
<rect x="1479.24" y="755.7" width="28.93" height="72.3" fill="#F5AAEA" stroke="#141414" stroke-width="1.6"/>
<rect x="1524.44" y="796.9" width="28.93" height="31.1" fill="#FCC98F" stroke="#141414" stroke-width="1.6"/>
<rect x="1569.64" y="720.2" width="28.93" height="107.8" fill="#EEE7CA" stroke="#141414" stroke-width="1.6"/>
<line x1="1358.1" y1="777.9" x2="1358.1" y2="811.1" stroke="#2a2a2a" stroke-width="1.8"/>
<line x1="1350.7" y1="777.9" x2="1365.5" y2="777.9" stroke="#1e1e1e" stroke-width="1.8"/>
<line x1="1350.7" y1="811.1" x2="1365.5" y2="811.1" stroke="#1e1e1e" stroke-width="1.8"/>
<line x1="1403.3" y1="732.6" x2="1403.3" y2="788" stroke="#2a2a2a" stroke-width="1.8"/>
<line x1="1395.9" y1="732.6" x2="1410.7" y2="732.6" stroke="#1e1e1e" stroke-width="1.8"/>
<line x1="1395.9" y1="788" x2="1410.7" y2="788" stroke="#1e1e1e" stroke-width="1.8"/>
<line x1="1448.5" y1="668.7" x2="1448.5" y2="761.9" stroke="#2a2a2a" stroke-width="1.8"/>
<line x1="1441.1" y1="668.7" x2="1455.9" y2="668.7" stroke="#1e1e1e" stroke-width="1.8"/>
<line x1="1441.1" y1="761.9" x2="1455.9" y2="761.9" stroke="#1e1e1e" stroke-width="1.8"/>
<line x1="1493.7" y1="727.5" x2="1493.7" y2="783.6" stroke="#2a2a2a" stroke-width="1.8"/>
<line x1="1486.3" y1="727.5" x2="1501.1" y2="727.5" stroke="#1e1e1e" stroke-width="1.8"/>
<line x1="1486.3" y1="783.6" x2="1501.1" y2="783.6" stroke="#1e1e1e" stroke-width="1.8"/>
<line x1="1538.9" y1="777.4" x2="1538.9" y2="816.2" stroke="#2a2a2a" stroke-width="1.8"/>
<line x1="1531.5" y1="777.4" x2="1546.3" y2="777.4" stroke="#1e1e1e" stroke-width="1.8"/>
<line x1="1531.5" y1="816.2" x2="1546.3" y2="816.2" stroke="#1e1e1e" stroke-width="1.8"/>
<line x1="1584.1" y1="630.5" x2="1584.1" y2="807.8" stroke="#2a2a2a" stroke-width="1.8"/>
<line x1="1576.7" y1="630.5" x2="1591.5" y2="630.5" stroke="#1e1e1e" stroke-width="1.8"/>
<line x1="1576.7" y1="807.8" x2="1591.5" y2="807.8" stroke="#1e1e1e" stroke-width="1.8"/>
<ellipse cx="1349.7" cy="777.4" rx="6.15" ry="6.6" fill="#FF0000"/>
<ellipse cx="1367.5" cy="781.8" rx="6.15" ry="6.6" fill="#FF0000"/>
<ellipse cx="1349.7" cy="791.4" rx="6.15" ry="6.6" fill="#FF0000"/>
<ellipse cx="1358.6" cy="803.6" rx="6.15" ry="6.6" fill="#FF0000"/>
<ellipse cx="1358.6" cy="817.4" rx="6.15" ry="6.6" fill="#FF0000"/>
<rect x="1388.7" y="723.3" width="12.2" height="12.8" fill="#0000C0"/>
<rect x="1406.9" y="726.2" width="12.2" height="12.8" fill="#0000C0"/>
<rect x="1388.7" y="764.4" width="12.2" height="12.8" fill="#0000C0"/>
<rect x="1406.9" y="771" width="12.2" height="12.8" fill="#0000C0"/>
<rect x="1397.6" y="786.5" width="12.2" height="12.8" fill="#0000C0"/>
<polygon points="1442.7,665.1 1455.1,665.1 1448.9,651.3" fill="#00C000"/>
<polygon points="1442.7,685.1 1455.1,685.1 1448.9,671.3" fill="#00C000"/>
<polygon points="1433.4,743.9 1445.8,743.9 1439.6,730.1" fill="#00C000"/>
<polygon points="1452.3,753.4 1464.7,753.4 1458.5,739.6" fill="#00C000"/>
<polygon points="1442.7,772.7 1455.1,772.7 1448.9,758.9" fill="#00C000"/>
<polygon points="1479,735.3 1485.1,728.7 1491.2,735.3 1485.1,741.9" fill="#C000C0"/>
<polygon points="1487.9,734.1 1494,727.5 1500.1,734.1 1494,740.7" fill="#C000C0"/>
<polygon points="1497.9,737 1504,730.4 1510.1,737 1504,743.6" fill="#C000C0"/>
<polygon points="1487.9,776.3 1494,769.7 1500.1,776.3 1494,782.9" fill="#C000C0"/>
<polygon points="1487.9,794.7 1494,788.1 1500.1,794.7 1494,801.3" fill="#C000C0"/>
<polygon points="1531.9,767.9 1544.7,767.9 1538.3,780.9" fill="#FF8000"/>
<polygon points="1523.1,782.4 1535.9,782.4 1529.5,795.4" fill="#FF8000"/>
<polygon points="1541.9,779 1554.7,779 1548.3,792" fill="#FF8000"/>
<polygon points="1531.9,804.1 1544.7,804.1 1538.3,817.1" fill="#FF8000"/>
<polygon points="1531.9,815.6 1544.7,815.6 1538.3,828.6" fill="#FF8000"/>
<polygon points="1577.9,592.6 1580.8,587.2 1588.2,587.2 1591.1,592.6 1588.2,598 1580.8,598" fill="#8C7F3A"/>
<polygon points="1577.9,682 1580.8,676.6 1588.2,676.6 1591.1,682 1588.2,687.4 1580.8,687.4" fill="#8C7F3A"/>
<polygon points="1577.9,718.6 1580.8,713.2 1588.2,713.2 1591.1,718.6 1588.2,724 1580.8,724" fill="#8C7F3A"/>
<polygon points="1568.3,805.8 1571.2,800.4 1578.6,800.4 1581.5,805.8 1578.6,811.2 1571.2,811.2" fill="#8C7F3A"/>
<polygon points="1587.2,797.4 1590.1,792 1597.5,792 1600.4,797.4 1597.5,802.8 1590.1,802.8" fill="#8C7F3A"/>
<text transform="translate(1353.17,770.8) scale(0.91,1)" font-family="'Liberation Sans', sans-serif" font-weight="normal" font-size="23.11" fill="#000">Δ</text>
<text transform="translate(1376.21,720.55) scale(0.88,1)" font-family="'Liberation Sans', sans-serif" font-weight="normal" font-size="24.41" fill="#000" stroke="#000" stroke-width="0.57">#</text>
<text transform="translate(1386.96,721.3) scale(0.96,1)" font-family="'DejaVu Sans', sans-serif" font-weight="normal" font-size="26.16" fill="#000" stroke="#000" stroke-width="0.63">∗</text>
<text transform="translate(1405.92,720.8) scale(0.91,1)" font-family="'Liberation Sans', sans-serif" font-weight="normal" font-size="23.11" fill="#000">Δ</text>
<text transform="translate(1443.61,644.85) scale(0.88,1)" font-family="'Liberation Sans', sans-serif" font-weight="normal" font-size="24.41" fill="#000" stroke="#000" stroke-width="0.57">#</text>
<text transform="translate(1475.26,722.15) scale(0.88,1)" font-family="'Liberation Sans', sans-serif" font-weight="normal" font-size="24.41" fill="#000" stroke="#000" stroke-width="0.57">#</text>
<text transform="translate(1486.01,722.9) scale(0.96,1)" font-family="'DejaVu Sans', sans-serif" font-weight="normal" font-size="26.16" fill="#000" stroke="#000" stroke-width="0.63">∗</text>
<text transform="translate(1521.86,767.9) scale(0.96,1)" font-family="'DejaVu Sans', sans-serif" font-weight="normal" font-size="26.16" fill="#000" stroke="#000" stroke-width="0.63">∗</text>
<text transform="translate(1540.82,767.4) scale(0.91,1)" font-family="'Liberation Sans', sans-serif" font-weight="normal" font-size="23.11" fill="#000">Δ</text>
<text transform="translate(1558.71,585.25) scale(0.88,1)" font-family="'Liberation Sans', sans-serif" font-weight="normal" font-size="24.41" fill="#000" stroke="#000" stroke-width="0.57">#</text>
<text transform="translate(1569.46,586) scale(0.96,1)" font-family="'DejaVu Sans', sans-serif" font-weight="normal" font-size="26.16" fill="#000" stroke="#000" stroke-width="0.63">∗</text>
<text transform="translate(1588.42,585.5) scale(0.91,1)" font-family="'Liberation Sans', sans-serif" font-weight="normal" font-size="23.11" fill="#000">Δ</text>
<text transform="translate(1854.74,504) scale(0.96,1)" font-family="'Liberation Sans', sans-serif" font-weight="bold" font-size="28.6" fill="#000">IL-10</text>
<text transform="translate(1660.8,686.3) rotate(-90) translate(-37.48,0) scale(0.96,1)" font-family="'Liberation Sans', sans-serif" font-weight="bold" font-size="25.6">ng/mL</text>
<line x1="1734.2" y1="829.6" x2="1745.7" y2="829.6" stroke="#000" stroke-width="2.4"/>
<text transform="translate(1720.55,839.5) scale(0.92,1)" font-family="'Liberation Sans', sans-serif" font-weight="bold" font-size="24.3" fill="#000">0</text>
<line x1="1734.2" y1="781.65" x2="1745.7" y2="781.65" stroke="#000" stroke-width="2.4"/>
<text transform="translate(1671.08,791.55) scale(0.92,1)" font-family="'Liberation Sans', sans-serif" font-weight="bold" font-size="24.3" fill="#000">10000</text>
<line x1="1734.2" y1="733.7" x2="1745.7" y2="733.7" stroke="#000" stroke-width="2.4"/>
<text transform="translate(1671.08,743.6) scale(0.92,1)" font-family="'Liberation Sans', sans-serif" font-weight="bold" font-size="24.3" fill="#000">20000</text>
<line x1="1734.2" y1="685.75" x2="1745.7" y2="685.75" stroke="#000" stroke-width="2.4"/>
<text transform="translate(1671.08,695.65) scale(0.92,1)" font-family="'Liberation Sans', sans-serif" font-weight="bold" font-size="24.3" fill="#000">30000</text>
<line x1="1734.2" y1="637.8" x2="1745.7" y2="637.8" stroke="#000" stroke-width="2.4"/>
<text transform="translate(1671.08,647.7) scale(0.92,1)" font-family="'Liberation Sans', sans-serif" font-weight="bold" font-size="24.3" fill="#000">40000</text>
<line x1="1734.2" y1="589.85" x2="1745.7" y2="589.85" stroke="#000" stroke-width="2.4"/>
<text transform="translate(1671.08,599.75) scale(0.92,1)" font-family="'Liberation Sans', sans-serif" font-weight="bold" font-size="24.3" fill="#000">50000</text>
<line x1="1734.2" y1="541.9" x2="1745.7" y2="541.9" stroke="#000" stroke-width="2.4"/>
<text transform="translate(1671.08,551.8) scale(0.92,1)" font-family="'Liberation Sans', sans-serif" font-weight="bold" font-size="24.3" fill="#000">60000</text>
<line x1="1745.7" y1="540.7" x2="1745.7" y2="830.8" stroke="#000" stroke-width="2.4"/>
<line x1="1744.5" y1="829.6" x2="2026.4" y2="829.6" stroke="#000" stroke-width="2.4"/>
<line x1="1775.3" y1="829.6" x2="1775.3" y2="841.6" stroke="#000" stroke-width="2.4"/>
<text transform="translate(1758.92,865.1) scale(1.02,1)" font-family="'Liberation Sans', sans-serif" font-weight="bold" font-size="22.2" fill="#000">GG</text>
<line x1="1819.35" y1="829.6" x2="1819.35" y2="841.6" stroke="#000" stroke-width="2.4"/>
<text transform="translate(1803.57,865.1) scale(1.02,1)" font-family="'Liberation Sans', sans-serif" font-weight="bold" font-size="22.2" fill="#000">GS</text>
<line x1="1863.4" y1="829.6" x2="1863.4" y2="841.6" stroke="#000" stroke-width="2.4"/>
<text transform="translate(1838.75,865.1) scale(1.02,1)" font-family="'Liberation Sans', sans-serif" font-weight="bold" font-size="22.2" fill="#000">GMR</text>
<line x1="1907.45" y1="829.6" x2="1907.45" y2="841.6" stroke="#000" stroke-width="2.4"/>
<text transform="translate(1892.86,865.1) scale(1.02,1)" font-family="'Liberation Sans', sans-serif" font-weight="bold" font-size="22.2" fill="#000">SS</text>
<line x1="1951.5" y1="829.6" x2="1951.5" y2="841.6" stroke="#000" stroke-width="2.4"/>
<text transform="translate(1936.42,865.1) scale(1.02,1)" font-family="'Liberation Sans', sans-serif" font-weight="bold" font-size="22.2" fill="#000">SG</text>
<line x1="1995.55" y1="829.6" x2="1995.55" y2="841.6" stroke="#000" stroke-width="2.4"/>
<text transform="translate(1970.8,865.1) scale(1.02,1)" font-family="'Liberation Sans', sans-serif" font-weight="bold" font-size="22.2" fill="#000">SMR</text>
<rect x="1761.8" y="798" width="28.19" height="31.6" fill="#F9A5A5" stroke="#141414" stroke-width="1.6"/>
<rect x="1805.85" y="698.6" width="28.19" height="131" fill="#9090F9" stroke="#141414" stroke-width="1.6"/>
<rect x="1893.95" y="603.9" width="28.19" height="225.7" fill="#F5AAEA" stroke="#141414" stroke-width="1.6"/>
<rect x="1938" y="765.6" width="28.19" height="64" fill="#FCC98F" stroke="#141414" stroke-width="1.6"/>
<line x1="1775.9" y1="753.5" x2="1775.9" y2="829.6" stroke="#2a2a2a" stroke-width="1.8"/>
<line x1="1768.5" y1="753.5" x2="1783.3" y2="753.5" stroke="#1e1e1e" stroke-width="1.8"/>
<line x1="1819.95" y1="629.2" x2="1819.95" y2="766.8" stroke="#2a2a2a" stroke-width="1.8"/>
<line x1="1812.55" y1="629.2" x2="1827.35" y2="629.2" stroke="#1e1e1e" stroke-width="1.8"/>
<line x1="1812.55" y1="766.8" x2="1827.35" y2="766.8" stroke="#1e1e1e" stroke-width="1.8"/>
<line x1="1908.05" y1="552.9" x2="1908.05" y2="653.2" stroke="#2a2a2a" stroke-width="1.8"/>
<line x1="1900.65" y1="552.9" x2="1915.45" y2="552.9" stroke="#1e1e1e" stroke-width="1.8"/>
<line x1="1900.65" y1="653.2" x2="1915.45" y2="653.2" stroke="#1e1e1e" stroke-width="1.8"/>
<line x1="1952.1" y1="671.3" x2="1952.1" y2="829.6" stroke="#2a2a2a" stroke-width="1.8"/>
<line x1="1944.7" y1="671.3" x2="1959.5" y2="671.3" stroke="#1e1e1e" stroke-width="1.8"/>
<ellipse cx="1770.2" cy="752.6" rx="6.15" ry="6.6" fill="#FF0000"/>
<ellipse cx="1780.2" cy="754.8" rx="6.15" ry="6.6" fill="#FF0000"/>
<ellipse cx="1775.7" cy="822.9" rx="6.15" ry="6.6" fill="#FF0000"/>
<ellipse cx="1765.7" cy="828.9" rx="6.15" ry="6.6" fill="#FF0000"/>
<ellipse cx="1784.6" cy="828.4" rx="6.15" ry="6.6" fill="#FF0000"/>
<rect x="1813.6" y="574.2" width="12.2" height="12.8" fill="#0000C0"/>
<rect x="1813.6" y="693.4" width="12.2" height="12.8" fill="#0000C0"/>
<rect x="1813.6" y="713.8" width="12.2" height="12.8" fill="#0000C0"/>
<rect x="1813.6" y="731.7" width="12.2" height="12.8" fill="#0000C0"/>
<rect x="1813.6" y="747" width="12.2" height="12.8" fill="#0000C0"/>
<polygon points="1848,837.5 1860.4,837.5 1854.2,823.7" fill="#00C000"/>
<polygon points="1852.7,835.1 1865.1,835.1 1858.9,821.3" fill="#00C000"/>
<polygon points="1857.3,837.5 1869.7,837.5 1863.5,823.7" fill="#00C000"/>
<polygon points="1861.8,837.5 1874.2,837.5 1868,823.7" fill="#00C000"/>
<polygon points="1866,837.3 1878.4,837.3 1872.2,823.5" fill="#00C000"/>
<polygon points="1892.4,580.2 1898.5,573.6 1904.6,580.2 1898.5,586.8" fill="#C000C0"/>
<polygon points="1898.6,580.2 1904.7,573.6 1910.8,580.2 1904.7,586.8" fill="#C000C0"/>
<polygon points="1904.8,580.2 1910.9,573.6 1917,580.2 1910.9,586.8" fill="#C000C0"/>
<polygon points="1910.7,580.2 1916.8,573.6 1922.9,580.2 1916.8,586.8" fill="#C000C0"/>
<polygon points="1901.6,692.7 1907.7,686.1 1913.8,692.7 1907.7,699.3" fill="#C000C0"/>
<polygon points="1945,603.3 1957.8,603.3 1951.4,616.3" fill="#FF8000"/>
<polygon points="1945,735.1 1957.8,735.1 1951.4,748.1" fill="#FF8000"/>
<polygon points="1945,812.8 1957.8,812.8 1951.4,825.8" fill="#FF8000"/>
<polygon points="1936.2,821.5 1949,821.5 1942.6,834.5" fill="#FF8000"/>
<polygon points="1954.6,819.5 1967.4,819.5 1961,832.5" fill="#FF8000"/>
<polygon points="1982.4,826 1985.3,820.6 1992.7,820.6 1995.6,826 1992.7,831.4 1985.3,831.4" fill="#8C7F3A"/>
<polygon points="1978.4,829.6 1981.3,824.2 1988.7,824.2 1991.6,829.6 1988.7,835 1981.3,835" fill="#8C7F3A"/>
<polygon points="1988.4,829.6 1991.3,824.2 1998.7,824.2 2001.6,829.6 1998.7,835 1991.3,835" fill="#8C7F3A"/>
<polygon points="1996.4,829.6 1999.3,824.2 2006.7,824.2 2009.6,829.6 2006.7,835 1999.3,835" fill="#8C7F3A"/>
<polygon points="2001.4,829.6 2004.3,824.2 2011.7,824.2 2014.6,829.6 2011.7,835 2004.3,835" fill="#8C7F3A"/>
<text transform="translate(1768.67,744.1) scale(0.91,1)" font-family="'Liberation Sans', sans-serif" font-weight="normal" font-size="23.11" fill="#000">Δ</text>
<text transform="translate(1809.21,572.7) scale(0.96,1)" font-family="'DejaVu Sans', sans-serif" font-weight="normal" font-size="26.16" fill="#000" stroke="#000" stroke-width="0.63">∗</text>
<text transform="translate(1858.28,818.95) scale(1.04,1)" font-family="'DejaVu Sans', sans-serif" font-weight="normal" font-size="18.73" fill="#000" stroke="#000" stroke-width="0.48">£</text>
<text transform="translate(1901.21,550.45) scale(0.88,1)" font-family="'Liberation Sans', sans-serif" font-weight="normal" font-size="24.41" fill="#000" stroke="#000" stroke-width="0.57">#</text>
<text transform="translate(1944.37,601.7) scale(0.91,1)" font-family="'Liberation Sans', sans-serif" font-weight="normal" font-size="23.11" fill="#000">Δ</text>
<text transform="translate(1989.88,818.95) scale(1.04,1)" font-family="'DejaVu Sans', sans-serif" font-weight="normal" font-size="18.73" fill="#000" stroke="#000" stroke-width="0.48">£</text>
<text transform="translate(215.12,989) scale(0.96,1)" font-family="'Liberation Sans', sans-serif" font-weight="bold" font-size="28.6" fill="#000">IL-12</text>
<text transform="translate(28.5,1169.5) rotate(-90) translate(-37.48,0) scale(0.96,1)" font-family="'Liberation Sans', sans-serif" font-weight="bold" font-size="25.6">ng/mL</text>
<line x1="91.8" y1="1313.6" x2="103.3" y2="1313.6" stroke="#000" stroke-width="2.4"/>
<text transform="translate(77.85,1323.5) scale(0.92,1)" font-family="'Liberation Sans', sans-serif" font-weight="bold" font-size="24.3" fill="#000">0</text>
<line x1="91.8" y1="1272.33" x2="103.3" y2="1272.33" stroke="#000" stroke-width="2.4"/>
<text transform="translate(40.75,1282.23) scale(0.92,1)" font-family="'Liberation Sans', sans-serif" font-weight="bold" font-size="24.3" fill="#000">1000</text>
<line x1="91.8" y1="1231.06" x2="103.3" y2="1231.06" stroke="#000" stroke-width="2.4"/>
<text transform="translate(40.75,1240.96) scale(0.92,1)" font-family="'Liberation Sans', sans-serif" font-weight="bold" font-size="24.3" fill="#000">2000</text>
<line x1="91.8" y1="1189.79" x2="103.3" y2="1189.79" stroke="#000" stroke-width="2.4"/>
<text transform="translate(40.75,1199.69) scale(0.92,1)" font-family="'Liberation Sans', sans-serif" font-weight="bold" font-size="24.3" fill="#000">3000</text>
<line x1="91.8" y1="1148.51" x2="103.3" y2="1148.51" stroke="#000" stroke-width="2.4"/>
<text transform="translate(40.75,1158.41) scale(0.92,1)" font-family="'Liberation Sans', sans-serif" font-weight="bold" font-size="24.3" fill="#000">4000</text>
<line x1="91.8" y1="1107.24" x2="103.3" y2="1107.24" stroke="#000" stroke-width="2.4"/>
<text transform="translate(40.75,1117.14) scale(0.92,1)" font-family="'Liberation Sans', sans-serif" font-weight="bold" font-size="24.3" fill="#000">5000</text>
<line x1="91.8" y1="1065.97" x2="103.3" y2="1065.97" stroke="#000" stroke-width="2.4"/>
<text transform="translate(40.75,1075.87) scale(0.92,1)" font-family="'Liberation Sans', sans-serif" font-weight="bold" font-size="24.3" fill="#000">6000</text>
<line x1="91.8" y1="1024.7" x2="103.3" y2="1024.7" stroke="#000" stroke-width="2.4"/>
<text transform="translate(40.75,1034.6) scale(0.92,1)" font-family="'Liberation Sans', sans-serif" font-weight="bold" font-size="24.3" fill="#000">7000</text>
<line x1="103.3" y1="1023.5" x2="103.3" y2="1314.8" stroke="#000" stroke-width="2.4"/>
<line x1="102.1" y1="1313.6" x2="392" y2="1313.6" stroke="#000" stroke-width="2.4"/>
<line x1="133.1" y1="1313.6" x2="133.1" y2="1325.6" stroke="#000" stroke-width="2.4"/>
<text transform="translate(116.72,1349.1) scale(1.02,1)" font-family="'Liberation Sans', sans-serif" font-weight="bold" font-size="22.2" fill="#000">GG</text>
<line x1="178.36" y1="1313.6" x2="178.36" y2="1325.6" stroke="#000" stroke-width="2.4"/>
<text transform="translate(162.58,1349.1) scale(1.02,1)" font-family="'Liberation Sans', sans-serif" font-weight="bold" font-size="22.2" fill="#000">GS</text>
<line x1="223.62" y1="1313.6" x2="223.62" y2="1325.6" stroke="#000" stroke-width="2.4"/>
<text transform="translate(198.97,1349.1) scale(1.02,1)" font-family="'Liberation Sans', sans-serif" font-weight="bold" font-size="22.2" fill="#000">GMR</text>
<line x1="268.88" y1="1313.6" x2="268.88" y2="1325.6" stroke="#000" stroke-width="2.4"/>
<text transform="translate(254.29,1349.1) scale(1.02,1)" font-family="'Liberation Sans', sans-serif" font-weight="bold" font-size="22.2" fill="#000">SS</text>
<line x1="314.14" y1="1313.6" x2="314.14" y2="1325.6" stroke="#000" stroke-width="2.4"/>
<text transform="translate(299.06,1349.1) scale(1.02,1)" font-family="'Liberation Sans', sans-serif" font-weight="bold" font-size="22.2" fill="#000">SG</text>
<line x1="359.4" y1="1313.6" x2="359.4" y2="1325.6" stroke="#000" stroke-width="2.4"/>
<text transform="translate(334.65,1349.1) scale(1.02,1)" font-family="'Liberation Sans', sans-serif" font-weight="bold" font-size="22.2" fill="#000">SMR</text>
<rect x="119.22" y="1274.7" width="28.97" height="38.9" fill="#F9A5A5" stroke="#141414" stroke-width="1.6"/>
<rect x="164.48" y="1207.5" width="28.97" height="106.1" fill="#9090F9" stroke="#141414" stroke-width="1.6"/>
<rect x="209.74" y="1300.2" width="28.97" height="13.4" fill="#A2F9A0" stroke="#141414" stroke-width="1.6"/>
<rect x="255" y="1170.4" width="28.97" height="143.2" fill="#F5AAEA" stroke="#141414" stroke-width="1.6"/>
<rect x="300.26" y="1268.7" width="28.97" height="44.9" fill="#FCC98F" stroke="#141414" stroke-width="1.6"/>
<rect x="345.52" y="1297.4" width="28.97" height="16.2" fill="#EEE7CA" stroke="#141414" stroke-width="1.6"/>
<line x1="133.7" y1="1243.7" x2="133.7" y2="1303.6" stroke="#2a2a2a" stroke-width="1.8"/>
<line x1="126.3" y1="1243.7" x2="141.1" y2="1243.7" stroke="#1e1e1e" stroke-width="1.8"/>
<line x1="126.3" y1="1303.6" x2="141.1" y2="1303.6" stroke="#1e1e1e" stroke-width="1.8"/>
<line x1="178.96" y1="1157.8" x2="178.96" y2="1255.9" stroke="#2a2a2a" stroke-width="1.8"/>
<line x1="171.56" y1="1157.8" x2="186.36" y2="1157.8" stroke="#1e1e1e" stroke-width="1.8"/>
<line x1="171.56" y1="1255.9" x2="186.36" y2="1255.9" stroke="#1e1e1e" stroke-width="1.8"/>
<line x1="224.22" y1="1297" x2="224.22" y2="1313.6" stroke="#2a2a2a" stroke-width="1.8"/>
<line x1="216.82" y1="1297" x2="231.62" y2="1297" stroke="#1e1e1e" stroke-width="1.8"/>
<line x1="269.48" y1="1105" x2="269.48" y2="1235.2" stroke="#2a2a2a" stroke-width="1.8"/>
<line x1="262.08" y1="1105" x2="276.88" y2="1105" stroke="#1e1e1e" stroke-width="1.8"/>
<line x1="262.08" y1="1235.2" x2="276.88" y2="1235.2" stroke="#1e1e1e" stroke-width="1.8"/>
<line x1="314.74" y1="1223.2" x2="314.74" y2="1313.6" stroke="#2a2a2a" stroke-width="1.8"/>
<line x1="307.34" y1="1223.2" x2="322.14" y2="1223.2" stroke="#1e1e1e" stroke-width="1.8"/>
<line x1="360" y1="1291.4" x2="360" y2="1313.6" stroke="#2a2a2a" stroke-width="1.8"/>
<line x1="352.6" y1="1291.4" x2="367.4" y2="1291.4" stroke="#1e1e1e" stroke-width="1.8"/>
<ellipse cx="125.1" cy="1243.2" rx="6.15" ry="6.6" fill="#FF0000"/>
<ellipse cx="143.5" cy="1240.3" rx="6.15" ry="6.6" fill="#FF0000"/>
<ellipse cx="125.1" cy="1288" rx="6.15" ry="6.6" fill="#FF0000"/>
<ellipse cx="125.1" cy="1299.8" rx="6.15" ry="6.6" fill="#FF0000"/>
<ellipse cx="143.5" cy="1295.8" rx="6.15" ry="6.6" fill="#FF0000"/>
<rect x="173.5" y="1114.1" width="12.2" height="12.8" fill="#0000C0"/>
<rect x="163.3" y="1219.5" width="12.2" height="12.8" fill="#0000C0"/>
<rect x="163.3" y="1231.7" width="12.2" height="12.8" fill="#0000C0"/>
<rect x="182.9" y="1210.6" width="12.2" height="12.8" fill="#0000C0"/>
<rect x="182.9" y="1226.2" width="12.2" height="12.8" fill="#0000C0"/>
<polygon points="213.8,1304.9 226.2,1304.9 220,1291.1" fill="#00C000"/>
<polygon points="219.4,1303.9 231.8,1303.9 225.6,1290.1" fill="#00C000"/>
<polygon points="224.8,1306.9 237.2,1306.9 231,1293.1" fill="#00C000"/>
<polygon points="209.4,1310.5 221.8,1310.5 215.6,1296.7" fill="#00C000"/>
<polygon points="230.5,1311.6 242.9,1311.6 236.7,1297.8" fill="#00C000"/>
<polygon points="263.9,1054.6 270,1048 276.1,1054.6 270,1061.2" fill="#C000C0"/>
<polygon points="253.9,1190.4 260,1183.8 266.1,1190.4 260,1197" fill="#C000C0"/>
<polygon points="263.9,1196.6 270,1190 276.1,1196.6 270,1203.2" fill="#C000C0"/>
<polygon points="273.4,1194.8 279.5,1188.2 285.6,1194.8 279.5,1201.4" fill="#C000C0"/>
<polygon points="263.9,1213.7 270,1207.1 276.1,1213.7 270,1220.3" fill="#C000C0"/>
<polygon points="307.9,1197.6 320.7,1197.6 314.3,1210.6" fill="#FF8000"/>
<polygon points="307.9,1230.9 320.7,1230.9 314.3,1243.9" fill="#FF8000"/>
<polygon points="307.9,1285.9 320.7,1285.9 314.3,1298.9" fill="#FF8000"/>
<polygon points="299.1,1295.9 311.9,1295.9 305.5,1308.9" fill="#FF8000"/>
<polygon points="317.9,1295.9 330.7,1295.9 324.3,1308.9" fill="#FF8000"/>
<polygon points="346.6,1289.1 349.5,1283.7 356.9,1283.7 359.8,1289.1 356.9,1294.5 349.5,1294.5" fill="#8C7F3A"/>
<polygon points="361,1298 363.9,1292.6 371.3,1292.6 374.2,1298 371.3,1303.4 363.9,1303.4" fill="#8C7F3A"/>
<polygon points="342.1,1301.4 345,1296 352.4,1296 355.3,1301.4 352.4,1306.8 345,1306.8" fill="#8C7F3A"/>
<polygon points="354.3,1301.4 357.2,1296 364.6,1296 367.5,1301.4 364.6,1306.8 357.2,1306.8" fill="#8C7F3A"/>
<polygon points="364.3,1301.4 367.2,1296 374.6,1296 377.5,1301.4 374.6,1306.8 367.2,1306.8" fill="#8C7F3A"/>
<text transform="translate(122.61,1228.2) scale(0.96,1)" font-family="'DejaVu Sans', sans-serif" font-weight="normal" font-size="26.16" fill="#000" stroke="#000" stroke-width="0.63">∗</text>
<text transform="translate(174.41,1109.85) scale(0.88,1)" font-family="'Liberation Sans', sans-serif" font-weight="normal" font-size="24.41" fill="#000" stroke="#000" stroke-width="0.57">#</text>
<text transform="translate(214.01,1279.7) scale(0.96,1)" font-family="'DejaVu Sans', sans-serif" font-weight="normal" font-size="26.16" fill="#000" stroke="#000" stroke-width="0.63">∗</text>
<text transform="translate(264.11,1043.05) scale(0.88,1)" font-family="'Liberation Sans', sans-serif" font-weight="normal" font-size="24.41" fill="#000" stroke="#000" stroke-width="0.57">#</text>
<text transform="translate(303.81,1193.1) scale(0.96,1)" font-family="'DejaVu Sans', sans-serif" font-weight="normal" font-size="26.16" fill="#000" stroke="#000" stroke-width="0.63">∗</text>
<text transform="translate(350.41,1278.5) scale(0.96,1)" font-family="'DejaVu Sans', sans-serif" font-weight="normal" font-size="26.16" fill="#000" stroke="#000" stroke-width="0.63">∗</text>
<text transform="translate(630.59,989) scale(0.96,1)" font-family="'Liberation Sans', sans-serif" font-weight="bold" font-size="28.6" fill="#000">IL-18</text>
<text transform="translate(436.9,1170.7) rotate(-90) translate(-37.48,0) scale(0.96,1)" font-family="'Liberation Sans', sans-serif" font-weight="bold" font-size="25.6">ng/mL</text>
<line x1="509.6" y1="1313.6" x2="521.1" y2="1313.6" stroke="#000" stroke-width="2.4"/>
<text transform="translate(496.25,1323.5) scale(0.92,1)" font-family="'Liberation Sans', sans-serif" font-weight="bold" font-size="24.3" fill="#000">0</text>
<line x1="509.6" y1="1272.4" x2="521.1" y2="1272.4" stroke="#000" stroke-width="2.4"/>
<text transform="translate(446.78,1282.3) scale(0.92,1)" font-family="'Liberation Sans', sans-serif" font-weight="bold" font-size="24.3" fill="#000">10000</text>
<line x1="509.6" y1="1231.2" x2="521.1" y2="1231.2" stroke="#000" stroke-width="2.4"/>
<text transform="translate(446.78,1241.1) scale(0.92,1)" font-family="'Liberation Sans', sans-serif" font-weight="bold" font-size="24.3" fill="#000">20000</text>
<line x1="509.6" y1="1190" x2="521.1" y2="1190" stroke="#000" stroke-width="2.4"/>
<text transform="translate(446.78,1199.9) scale(0.92,1)" font-family="'Liberation Sans', sans-serif" font-weight="bold" font-size="24.3" fill="#000">30000</text>
<line x1="509.6" y1="1148.8" x2="521.1" y2="1148.8" stroke="#000" stroke-width="2.4"/>
<text transform="translate(446.78,1158.7) scale(0.92,1)" font-family="'Liberation Sans', sans-serif" font-weight="bold" font-size="24.3" fill="#000">40000</text>
<line x1="509.6" y1="1107.6" x2="521.1" y2="1107.6" stroke="#000" stroke-width="2.4"/>
<text transform="translate(446.78,1117.5) scale(0.92,1)" font-family="'Liberation Sans', sans-serif" font-weight="bold" font-size="24.3" fill="#000">50000</text>
<line x1="509.6" y1="1066.4" x2="521.1" y2="1066.4" stroke="#000" stroke-width="2.4"/>
<text transform="translate(446.78,1076.3) scale(0.92,1)" font-family="'Liberation Sans', sans-serif" font-weight="bold" font-size="24.3" fill="#000">60000</text>
<line x1="509.6" y1="1025.2" x2="521.1" y2="1025.2" stroke="#000" stroke-width="2.4"/>
<text transform="translate(446.78,1035.1) scale(0.92,1)" font-family="'Liberation Sans', sans-serif" font-weight="bold" font-size="24.3" fill="#000">70000</text>
<line x1="521.1" y1="1024" x2="521.1" y2="1314.8" stroke="#000" stroke-width="2.4"/>
<line x1="519.9" y1="1313.6" x2="802.2" y2="1313.6" stroke="#000" stroke-width="2.4"/>
<line x1="550.4" y1="1313.6" x2="550.4" y2="1325.6" stroke="#000" stroke-width="2.4"/>
<text transform="translate(534.02,1349.1) scale(1.02,1)" font-family="'Liberation Sans', sans-serif" font-weight="bold" font-size="22.2" fill="#000">GG</text>
<line x1="594.6" y1="1313.6" x2="594.6" y2="1325.6" stroke="#000" stroke-width="2.4"/>
<text transform="translate(578.82,1349.1) scale(1.02,1)" font-family="'Liberation Sans', sans-serif" font-weight="bold" font-size="22.2" fill="#000">GS</text>
<line x1="638.8" y1="1313.6" x2="638.8" y2="1325.6" stroke="#000" stroke-width="2.4"/>
<text transform="translate(614.15,1349.1) scale(1.02,1)" font-family="'Liberation Sans', sans-serif" font-weight="bold" font-size="22.2" fill="#000">GMR</text>
<line x1="683" y1="1313.6" x2="683" y2="1325.6" stroke="#000" stroke-width="2.4"/>
<text transform="translate(668.41,1349.1) scale(1.02,1)" font-family="'Liberation Sans', sans-serif" font-weight="bold" font-size="22.2" fill="#000">SS</text>
<line x1="727.2" y1="1313.6" x2="727.2" y2="1325.6" stroke="#000" stroke-width="2.4"/>
<text transform="translate(712.12,1349.1) scale(1.02,1)" font-family="'Liberation Sans', sans-serif" font-weight="bold" font-size="22.2" fill="#000">SG</text>
<line x1="771.4" y1="1313.6" x2="771.4" y2="1325.6" stroke="#000" stroke-width="2.4"/>
<text transform="translate(746.65,1349.1) scale(1.02,1)" font-family="'Liberation Sans', sans-serif" font-weight="bold" font-size="22.2" fill="#000">SMR</text>
<rect x="536.86" y="1285.8" width="28.29" height="27.8" fill="#F9A5A5" stroke="#141414" stroke-width="1.6"/>
<rect x="581.06" y="1216.6" width="28.29" height="97" fill="#9090F9" stroke="#141414" stroke-width="1.6"/>
<rect x="669.46" y="1176.7" width="28.29" height="136.9" fill="#F5AAEA" stroke="#141414" stroke-width="1.6"/>
<rect x="713.66" y="1276.3" width="28.29" height="37.3" fill="#FCC98F" stroke="#141414" stroke-width="1.6"/>
<line x1="551" y1="1250.3" x2="551" y2="1313.6" stroke="#2a2a2a" stroke-width="1.8"/>
<line x1="543.6" y1="1250.3" x2="558.4" y2="1250.3" stroke="#1e1e1e" stroke-width="1.8"/>
<line x1="595.2" y1="1162.2" x2="595.2" y2="1269.2" stroke="#2a2a2a" stroke-width="1.8"/>
<line x1="587.8" y1="1162.2" x2="602.6" y2="1162.2" stroke="#1e1e1e" stroke-width="1.8"/>
<line x1="587.8" y1="1269.2" x2="602.6" y2="1269.2" stroke="#1e1e1e" stroke-width="1.8"/>
<line x1="683.6" y1="1097.7" x2="683.6" y2="1253.2" stroke="#2a2a2a" stroke-width="1.8"/>
<line x1="676.2" y1="1097.7" x2="691" y2="1097.7" stroke="#1e1e1e" stroke-width="1.8"/>
<line x1="676.2" y1="1253.2" x2="691" y2="1253.2" stroke="#1e1e1e" stroke-width="1.8"/>
<line x1="727.8" y1="1236.6" x2="727.8" y2="1313.6" stroke="#2a2a2a" stroke-width="1.8"/>
<line x1="720.4" y1="1236.6" x2="735.2" y2="1236.6" stroke="#1e1e1e" stroke-width="1.8"/>
<ellipse cx="546.6" cy="1249.2" rx="6.15" ry="6.6" fill="#FF0000"/>
<ellipse cx="556" cy="1252.1" rx="6.15" ry="6.6" fill="#FF0000"/>
<ellipse cx="551.1" cy="1301.4" rx="6.15" ry="6.6" fill="#FF0000"/>
<ellipse cx="542.2" cy="1312.5" rx="6.15" ry="6.6" fill="#FF0000"/>
<ellipse cx="560.4" cy="1312.5" rx="6.15" ry="6.6" fill="#FF0000"/>
<rect x="589.3" y="1115.2" width="12.2" height="12.8" fill="#0000C0"/>
<rect x="580.5" y="1221.3" width="12.2" height="12.8" fill="#0000C0"/>
<rect x="589.3" y="1232.4" width="12.2" height="12.8" fill="#0000C0"/>
<rect x="598.7" y="1230.6" width="12.2" height="12.8" fill="#0000C0"/>
<rect x="589.3" y="1246.8" width="12.2" height="12.8" fill="#0000C0"/>
<polygon points="623.6,1321.9 636,1321.9 629.8,1308.1" fill="#00C000"/>
<polygon points="628.8,1318 641.2,1318 635,1304.2" fill="#00C000"/>
<polygon points="633.1,1321.9 645.5,1321.9 639.3,1308.1" fill="#00C000"/>
<polygon points="637.7,1318 650.1,1318 643.9,1304.2" fill="#00C000"/>
<polygon points="642.5,1321.9 654.9,1321.9 648.7,1308.1" fill="#00C000"/>
<polygon points="677.4,1038.4 683.5,1031.8 689.6,1038.4 683.5,1045" fill="#C000C0"/>
<polygon points="668.5,1202 674.6,1195.4 680.7,1202 674.6,1208.6" fill="#C000C0"/>
<polygon points="686.7,1198.2 692.8,1191.6 698.9,1198.2 692.8,1204.8" fill="#C000C0"/>
<polygon points="686.7,1212.2 692.8,1205.6 698.9,1212.2 692.8,1218.8" fill="#C000C0"/>
<polygon points="677.4,1228.8 683.5,1222.2 689.6,1228.8 683.5,1235.4" fill="#C000C0"/>
<polygon points="721.5,1215.3 734.3,1215.3 727.9,1228.3" fill="#FF8000"/>
<polygon points="721.5,1238.6 734.3,1238.6 727.9,1251.6" fill="#FF8000"/>
<polygon points="721.5,1285.9 734.3,1285.9 727.9,1298.9" fill="#FF8000"/>
<polygon points="712.6,1301.5 725.4,1301.5 719,1314.5" fill="#FF8000"/>
<polygon points="730.4,1298.5 743.2,1298.5 736.8,1311.5" fill="#FF8000"/>
<polygon points="759,1308 761.9,1302.6 769.3,1302.6 772.2,1308 769.3,1313.4 761.9,1313.4" fill="#8C7F3A"/>
<polygon points="764.4,1313 767.3,1307.6 774.7,1307.6 777.6,1313 774.7,1318.4 767.3,1318.4" fill="#8C7F3A"/>
<polygon points="770.4,1313 773.3,1307.6 780.7,1307.6 783.6,1313 780.7,1318.4 773.3,1318.4" fill="#8C7F3A"/>
<polygon points="774.4,1313 777.3,1307.6 784.7,1307.6 787.6,1313 784.7,1318.4 777.3,1318.4" fill="#8C7F3A"/>
<polygon points="761.4,1313 764.3,1307.6 771.7,1307.6 774.6,1313 771.7,1318.4 764.3,1318.4" fill="#8C7F3A"/>
<text transform="translate(537.36,1241.9) scale(0.96,1)" font-family="'DejaVu Sans', sans-serif" font-weight="normal" font-size="26.16" fill="#000" stroke="#000" stroke-width="0.63">∗</text>
<text transform="translate(556.32,1241.4) scale(0.91,1)" font-family="'Liberation Sans', sans-serif" font-weight="normal" font-size="23.11" fill="#000">Δ</text>
<text transform="translate(589.91,1111.05) scale(0.88,1)" font-family="'Liberation Sans', sans-serif" font-weight="normal" font-size="24.41" fill="#000" stroke="#000" stroke-width="0.57">#</text>
<text transform="translate(626.57,1299.5) scale(0.91,1)" font-family="'Liberation Sans', sans-serif" font-weight="normal" font-size="23.11" fill="#000">Δ</text>
<text transform="translate(645.68,1298.25) scale(1.04,1)" font-family="'DejaVu Sans', sans-serif" font-weight="normal" font-size="18.73" fill="#000" stroke="#000" stroke-width="0.48">£</text>
<text transform="translate(678.91,1031.65) scale(0.88,1)" font-family="'Liberation Sans', sans-serif" font-weight="normal" font-size="24.41" fill="#000" stroke="#000" stroke-width="0.57">#</text>
<text transform="translate(717.81,1214.2) scale(0.96,1)" font-family="'DejaVu Sans', sans-serif" font-weight="normal" font-size="26.16" fill="#000" stroke="#000" stroke-width="0.63">∗</text>
<text transform="translate(760.71,1296.3) scale(0.96,1)" font-family="'DejaVu Sans', sans-serif" font-weight="normal" font-size="26.16" fill="#000" stroke="#000" stroke-width="0.63">∗</text>
<text transform="translate(998.58,989) scale(0.94,1)" font-family="'Liberation Sans', sans-serif" font-weight="bold" font-size="28.6" fill="#000">TNF-α</text>
<text transform="translate(846,1170.7) rotate(-90) translate(-37.48,0) scale(0.96,1)" font-family="'Liberation Sans', sans-serif" font-weight="bold" font-size="25.6">ng/mL</text>
<line x1="909.4" y1="1313.6" x2="920.9" y2="1313.6" stroke="#000" stroke-width="2.4"/>
<text transform="translate(894.05,1323.5) scale(0.92,1)" font-family="'Liberation Sans', sans-serif" font-weight="bold" font-size="24.3" fill="#000">0</text>
<line x1="909.4" y1="1241.8" x2="920.9" y2="1241.8" stroke="#000" stroke-width="2.4"/>
<text transform="translate(856.95,1251.7) scale(0.92,1)" font-family="'Liberation Sans', sans-serif" font-weight="bold" font-size="24.3" fill="#000">2000</text>
<line x1="909.4" y1="1170" x2="920.9" y2="1170" stroke="#000" stroke-width="2.4"/>
<text transform="translate(856.95,1179.9) scale(0.92,1)" font-family="'Liberation Sans', sans-serif" font-weight="bold" font-size="24.3" fill="#000">4000</text>
<line x1="909.4" y1="1098.2" x2="920.9" y2="1098.2" stroke="#000" stroke-width="2.4"/>
<text transform="translate(856.95,1108.1) scale(0.92,1)" font-family="'Liberation Sans', sans-serif" font-weight="bold" font-size="24.3" fill="#000">6000</text>
<line x1="909.4" y1="1026.4" x2="920.9" y2="1026.4" stroke="#000" stroke-width="2.4"/>
<text transform="translate(856.95,1036.3) scale(0.92,1)" font-family="'Liberation Sans', sans-serif" font-weight="bold" font-size="24.3" fill="#000">8000</text>
<line x1="920.9" y1="1025.2" x2="920.9" y2="1314.8" stroke="#000" stroke-width="2.4"/>
<line x1="919.7" y1="1313.6" x2="1210" y2="1313.6" stroke="#000" stroke-width="2.4"/>
<line x1="951.1" y1="1313.6" x2="951.1" y2="1325.6" stroke="#000" stroke-width="2.4"/>
<text transform="translate(934.72,1349.1) scale(1.02,1)" font-family="'Liberation Sans', sans-serif" font-weight="bold" font-size="22.2" fill="#000">GG</text>
<line x1="996.4" y1="1313.6" x2="996.4" y2="1325.6" stroke="#000" stroke-width="2.4"/>
<text transform="translate(980.62,1349.1) scale(1.02,1)" font-family="'Liberation Sans', sans-serif" font-weight="bold" font-size="22.2" fill="#000">GS</text>
<line x1="1041.7" y1="1313.6" x2="1041.7" y2="1325.6" stroke="#000" stroke-width="2.4"/>
<text transform="translate(1017.05,1349.1) scale(1.02,1)" font-family="'Liberation Sans', sans-serif" font-weight="bold" font-size="22.2" fill="#000">GMR</text>
<line x1="1087" y1="1313.6" x2="1087" y2="1325.6" stroke="#000" stroke-width="2.4"/>
<text transform="translate(1072.41,1349.1) scale(1.02,1)" font-family="'Liberation Sans', sans-serif" font-weight="bold" font-size="22.2" fill="#000">SS</text>
<line x1="1132.3" y1="1313.6" x2="1132.3" y2="1325.6" stroke="#000" stroke-width="2.4"/>
<text transform="translate(1117.22,1349.1) scale(1.02,1)" font-family="'Liberation Sans', sans-serif" font-weight="bold" font-size="22.2" fill="#000">SG</text>
<line x1="1177.6" y1="1313.6" x2="1177.6" y2="1325.6" stroke="#000" stroke-width="2.4"/>
<text transform="translate(1152.85,1349.1) scale(1.02,1)" font-family="'Liberation Sans', sans-serif" font-weight="bold" font-size="22.2" fill="#000">SMR</text>
<rect x="937.2" y="1309.1" width="28.99" height="4.5" fill="#F9A5A5" stroke="#141414" stroke-width="1.6"/>
<rect x="982.5" y="1230.8" width="28.99" height="82.8" fill="#9090F9" stroke="#141414" stroke-width="1.6"/>
<rect x="1027.8" y="1310.2" width="28.99" height="3.4" fill="#A2F9A0" stroke="#141414" stroke-width="1.6"/>
<rect x="1073.1" y="1205.5" width="28.99" height="108.1" fill="#F5AAEA" stroke="#141414" stroke-width="1.6"/>
<rect x="1118.4" y="1305.3" width="28.99" height="8.3" fill="#FCC98F" stroke="#141414" stroke-width="1.6"/>
<rect x="1163.7" y="1310" width="28.99" height="3.6" fill="#EEE7CA" stroke="#141414" stroke-width="1.6"/>
<line x1="951.7" y1="1301.4" x2="951.7" y2="1313.6" stroke="#2a2a2a" stroke-width="1.8"/>
<line x1="944.3" y1="1301.4" x2="959.1" y2="1301.4" stroke="#1e1e1e" stroke-width="1.8"/>
<line x1="997" y1="1163.8" x2="997" y2="1297.6" stroke="#2a2a2a" stroke-width="1.8"/>
<line x1="989.6" y1="1163.8" x2="1004.4" y2="1163.8" stroke="#1e1e1e" stroke-width="1.8"/>
<line x1="989.6" y1="1297.6" x2="1004.4" y2="1297.6" stroke="#1e1e1e" stroke-width="1.8"/>
<line x1="1042.3" y1="1304" x2="1042.3" y2="1313.6" stroke="#2a2a2a" stroke-width="1.8"/>
<line x1="1034.9" y1="1304" x2="1049.7" y2="1304" stroke="#1e1e1e" stroke-width="1.8"/>
<line x1="1087.6" y1="1109.4" x2="1087.6" y2="1301.4" stroke="#2a2a2a" stroke-width="1.8"/>
<line x1="1080.2" y1="1109.4" x2="1095" y2="1109.4" stroke="#1e1e1e" stroke-width="1.8"/>
<line x1="1080.2" y1="1301.4" x2="1095" y2="1301.4" stroke="#1e1e1e" stroke-width="1.8"/>
<line x1="1132.9" y1="1299.1" x2="1132.9" y2="1313.6" stroke="#2a2a2a" stroke-width="1.8"/>
<line x1="1125.5" y1="1299.1" x2="1140.3" y2="1299.1" stroke="#1e1e1e" stroke-width="1.8"/>
<line x1="1178.2" y1="1303.6" x2="1178.2" y2="1313.6" stroke="#2a2a2a" stroke-width="1.8"/>
<line x1="1170.8" y1="1303.6" x2="1185.6" y2="1303.6" stroke="#1e1e1e" stroke-width="1.8"/>
<ellipse cx="942.6" cy="1300.2" rx="6.15" ry="6.6" fill="#FF0000"/>
<ellipse cx="950.4" cy="1301.4" rx="6.15" ry="6.6" fill="#FF0000"/>
<ellipse cx="962.6" cy="1309.1" rx="6.15" ry="6.6" fill="#FF0000"/>
<ellipse cx="942.6" cy="1312.4" rx="6.15" ry="6.6" fill="#FF0000"/>
<ellipse cx="955.5" cy="1311.3" rx="6.15" ry="6.6" fill="#FF0000"/>
<rect x="991.6" y="1111.2" width="12.2" height="12.8" fill="#0000C0"/>
<rect x="991.6" y="1216.8" width="12.2" height="12.8" fill="#0000C0"/>
<rect x="982" y="1253.9" width="12.2" height="12.8" fill="#0000C0"/>
<rect x="1000.9" y="1255.5" width="12.2" height="12.8" fill="#0000C0"/>
<rect x="991.6" y="1281.2" width="12.2" height="12.8" fill="#0000C0"/>
<polygon points="1027,1309.3 1039.4,1309.3 1033.2,1295.5" fill="#00C000"/>
<polygon points="1032.9,1315.9 1045.3,1315.9 1039.1,1302.1" fill="#00C000"/>
<polygon points="1045.1,1319.4 1057.5,1319.4 1051.3,1305.6" fill="#00C000"/>
<polygon points="1026.3,1319.4 1038.7,1319.4 1032.5,1305.6" fill="#00C000"/>
<polygon points="1038.8,1317.9 1051.2,1317.9 1045,1304.1" fill="#00C000"/>
<polygon points="1081.4,1047.3 1087.5,1040.7 1093.6,1047.3 1087.5,1053.9" fill="#C000C0"/>
<polygon points="1081.4,1199.3 1087.5,1192.7 1093.6,1199.3 1087.5,1205.9" fill="#C000C0"/>
<polygon points="1081.4,1215.3 1087.5,1208.7 1093.6,1215.3 1087.5,1221.9" fill="#C000C0"/>
<polygon points="1081.4,1275.8 1087.5,1269.2 1093.6,1275.8 1087.5,1282.4" fill="#C000C0"/>
<polygon points="1081.4,1287.6 1087.5,1281 1093.6,1287.6 1087.5,1294.2" fill="#C000C0"/>
<polygon points="1119.3,1293 1132.1,1293 1125.7,1306" fill="#FF8000"/>
<polygon points="1135.9,1296.5 1148.7,1296.5 1142.3,1309.5" fill="#FF8000"/>
<polygon points="1119.3,1304.5 1132.1,1304.5 1125.7,1317.5" fill="#FF8000"/>
<polygon points="1130.4,1302.5 1143.2,1302.5 1136.8,1315.5" fill="#FF8000"/>
<polygon points="1125.6,1293.5 1138.4,1293.5 1132,1306.5" fill="#FF8000"/>
<polygon points="1171.9,1297.6 1174.8,1292.2 1182.2,1292.2 1185.1,1297.6 1182.2,1303 1174.8,1303" fill="#8C7F3A"/>
<polygon points="1162.4,1312.4 1165.3,1307 1172.7,1307 1175.6,1312.4 1172.7,1317.8 1165.3,1317.8" fill="#8C7F3A"/>
<polygon points="1171.9,1312.4 1174.8,1307 1182.2,1307 1185.1,1312.4 1182.2,1317.8 1174.8,1317.8" fill="#8C7F3A"/>
<polygon points="1181.2,1312.4 1184.1,1307 1191.5,1307 1194.4,1312.4 1191.5,1317.8 1184.1,1317.8" fill="#8C7F3A"/>
<polygon points="1167.4,1308 1170.3,1302.6 1177.7,1302.6 1180.6,1308 1177.7,1313.4 1170.3,1313.4" fill="#8C7F3A"/>
<text transform="translate(941.01,1291.9) scale(0.96,1)" font-family="'DejaVu Sans', sans-serif" font-weight="normal" font-size="26.16" fill="#000" stroke="#000" stroke-width="0.63">∗</text>
<text transform="translate(991.71,1106.95) scale(0.88,1)" font-family="'Liberation Sans', sans-serif" font-weight="normal" font-size="24.41" fill="#000" stroke="#000" stroke-width="0.57">#</text>
<text transform="translate(1032.01,1294.7) scale(0.96,1)" font-family="'DejaVu Sans', sans-serif" font-weight="normal" font-size="26.16" fill="#000" stroke="#000" stroke-width="0.63">∗</text>
<text transform="translate(1081.91,1040.35) scale(0.88,1)" font-family="'Liberation Sans', sans-serif" font-weight="normal" font-size="24.41" fill="#000" stroke="#000" stroke-width="0.57">#</text>
<text transform="translate(1122.51,1289.6) scale(0.96,1)" font-family="'DejaVu Sans', sans-serif" font-weight="normal" font-size="26.16" fill="#000" stroke="#000" stroke-width="0.63">∗</text>
<text transform="translate(1167.31,1290.8) scale(0.96,1)" font-family="'DejaVu Sans', sans-serif" font-weight="normal" font-size="26.16" fill="#000" stroke="#000" stroke-width="0.63">∗</text>
</svg></body></html>
